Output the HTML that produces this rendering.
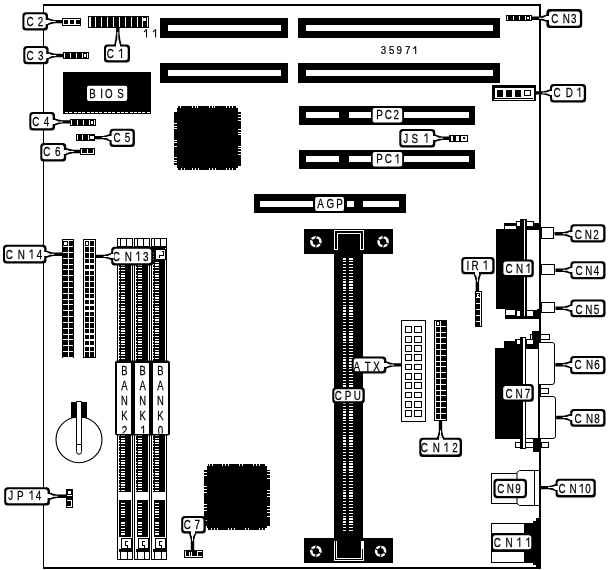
<!DOCTYPE html>
<html><head><meta charset="utf-8"><title>35971</title>
<style>
html,body{margin:0;padding:0;background:#fff;}
body{width:612px;height:570px;overflow:hidden;font-family:"Liberation Sans",sans-serif;}
svg{display:block;position:absolute;left:0;top:0;will-change:transform;}
svg text{font-family:"Liberation Sans",sans-serif;}
</style></head><body>
<svg width="612" height="570" viewBox="0 0 612 570" shape-rendering="crispEdges">
<rect x="0" y="0" width="612" height="570" fill="#fff"/>
<rect x="43" y="4" width="498" height="2" fill="#000" />
<rect x="43" y="4" width="1" height="565" fill="#000" />
<rect x="539" y="4" width="2" height="565" fill="#000" />
<rect x="43" y="567" width="498" height="2" fill="#000" />
<rect x="160" y="18" width="128" height="20" fill="#000" />
<rect x="168" y="25" width="113" height="6" fill="#fff" />
<rect x="160" y="63" width="128" height="20" fill="#000" />
<rect x="168" y="70" width="113" height="6" fill="#fff" />
<rect x="298" y="18" width="202" height="20" fill="#000" />
<rect x="306" y="25" width="187" height="6" fill="#fff" />
<rect x="298" y="63" width="202" height="20" fill="#000" />
<rect x="306" y="70" width="187" height="6" fill="#fff" />
<rect x="299" y="106" width="176" height="19" fill="#000" />
<rect x="306" y="112" width="33" height="6" fill="#fff" />
<rect x="349" y="112" width="21.5" height="6" fill="#fff" />
<rect x="404" y="112" width="65" height="6" fill="#fff" />
<rect x="372.7" y="108" width="29.5" height="14.5" rx="2" fill="#fff" shape-rendering="auto"/>
<text transform="translate(379.6,119.4) scale(0.76,1)" font-size="13" text-anchor="middle" fill="#000" stroke="#000" stroke-width="0.25">P</text>
<text transform="translate(388.2,119.4) scale(0.76,1)" font-size="13" text-anchor="middle" fill="#000" stroke="#000" stroke-width="0.25">C</text>
<text transform="translate(396.3,119.4) scale(0.76,1)" font-size="13" text-anchor="middle" fill="#000" stroke="#000" stroke-width="0.25">2</text>
<rect x="299" y="150" width="176" height="19" fill="#000" />
<rect x="306" y="156" width="33" height="6" fill="#fff" />
<rect x="349" y="156" width="21.5" height="6" fill="#fff" />
<rect x="404" y="156" width="65" height="6" fill="#fff" />
<rect x="372.7" y="152" width="29.5" height="14.5" rx="2" fill="#fff" shape-rendering="auto"/>
<text transform="translate(379.6,163.4) scale(0.76,1)" font-size="13" text-anchor="middle" fill="#000" stroke="#000" stroke-width="0.25">P</text>
<text transform="translate(388.2,163.4) scale(0.76,1)" font-size="13" text-anchor="middle" fill="#000" stroke="#000" stroke-width="0.25">C</text>
<path d="M397.9,163.4 V154.105 M398,154.305 L395.4,156.805" fill="none" stroke="#000" stroke-width="1.05" stroke-linecap="butt" shape-rendering="auto"/>
<rect x="254" y="194" width="152" height="19" fill="#000" />
<rect x="260" y="201" width="53" height="6" fill="#fff" />
<rect x="315.1" y="196.9" width="28.9" height="14" rx="2" fill="#fff" shape-rendering="auto"/>
<rect x="347" y="201" width="6.5" height="6" fill="#fff" />
<rect x="363" y="201" width="36" height="6" fill="#fff" />
<text transform="translate(320.5,208.2) scale(0.76,1)" font-size="13" text-anchor="middle" fill="#000" stroke="#000" stroke-width="0.25">A</text>
<text transform="translate(330.4,208.2) scale(0.76,1)" font-size="13" text-anchor="middle" fill="#000" stroke="#000" stroke-width="0.25">G</text>
<text transform="translate(339.6,208.2) scale(0.76,1)" font-size="13" text-anchor="middle" fill="#000" stroke="#000" stroke-width="0.25">P</text>
<rect x="177" y="108" width="60.5" height="59.5" fill="#000" />
<rect x="178" y="105.5" width="57.5" height="64.5" fill="#000" />
<rect x="174" y="111.5" width="66.5" height="54.5" fill="#000" />
<rect x="180" y="105.5" width="1" height="2.5" fill="#fff" />
<rect x="192" y="105.5" width="1" height="2.5" fill="#fff" />
<rect x="195" y="105.5" width="1" height="2.5" fill="#fff" />
<rect x="197" y="105.5" width="1" height="2.5" fill="#fff" />
<rect x="209" y="105.5" width="1" height="2.5" fill="#fff" />
<rect x="212" y="105.5" width="1" height="2.5" fill="#fff" />
<rect x="214" y="105.5" width="1" height="2.5" fill="#fff" />
<rect x="226" y="105.5" width="1" height="2.5" fill="#fff" />
<rect x="229" y="105.5" width="1" height="2.5" fill="#fff" />
<rect x="232" y="105.5" width="1" height="2.5" fill="#fff" />
<rect x="181" y="167.5" width="1" height="2.5" fill="#fff" />
<rect x="184" y="167.5" width="1" height="2.5" fill="#fff" />
<rect x="192" y="167.5" width="1" height="2.5" fill="#fff" />
<rect x="195" y="167.5" width="1" height="2.5" fill="#fff" />
<rect x="198" y="167.5" width="1" height="2.5" fill="#fff" />
<rect x="209" y="167.5" width="1" height="2.5" fill="#fff" />
<rect x="212" y="167.5" width="1" height="2.5" fill="#fff" />
<rect x="215" y="167.5" width="1" height="2.5" fill="#fff" />
<rect x="226" y="167.5" width="1" height="2.5" fill="#fff" />
<rect x="229" y="167.5" width="1" height="2.5" fill="#fff" />
<rect x="232" y="167.5" width="1" height="2.5" fill="#fff" />
<rect x="174" y="123" width="3" height="1" fill="#fff" />
<rect x="174" y="126" width="3" height="1" fill="#fff" />
<rect x="174" y="128" width="3" height="1" fill="#fff" />
<rect x="174" y="140" width="3" height="1" fill="#fff" />
<rect x="174" y="142" width="3" height="1" fill="#fff" />
<rect x="174" y="146" width="3" height="1" fill="#fff" />
<rect x="174" y="157" width="3" height="1" fill="#fff" />
<rect x="174" y="160" width="3" height="1" fill="#fff" />
<rect x="174" y="162" width="3" height="1" fill="#fff" />
<rect x="174" y="165" width="3" height="1" fill="#fff" />
<rect x="237.5" y="114" width="3" height="1" fill="#fff" />
<rect x="237.5" y="117" width="3" height="1" fill="#fff" />
<rect x="237.5" y="120" width="3" height="1" fill="#fff" />
<rect x="237.5" y="129" width="3" height="1" fill="#fff" />
<rect x="237.5" y="132" width="3" height="1" fill="#fff" />
<rect x="237.5" y="134" width="3" height="1" fill="#fff" />
<rect x="237.5" y="146" width="3" height="1" fill="#fff" />
<rect x="237.5" y="148" width="3" height="1" fill="#fff" />
<rect x="237.5" y="151" width="3" height="1" fill="#fff" />
<rect x="237.5" y="154" width="3" height="1" fill="#fff" />
<rect x="207" y="466" width="60" height="61.5" fill="#000" />
<rect x="208" y="463.5" width="57" height="66.5" fill="#000" />
<rect x="204" y="469.5" width="66" height="56.5" fill="#000" />
<rect x="209" y="463.5" width="1" height="2.5" fill="#fff" />
<rect x="212" y="463.5" width="1" height="2.5" fill="#fff" />
<rect x="222" y="463.5" width="1" height="2.5" fill="#fff" />
<rect x="225" y="463.5" width="1" height="2.5" fill="#fff" />
<rect x="228" y="463.5" width="1" height="2.5" fill="#fff" />
<rect x="239" y="463.5" width="1" height="2.5" fill="#fff" />
<rect x="242" y="463.5" width="1" height="2.5" fill="#fff" />
<rect x="253" y="463.5" width="1" height="2.5" fill="#fff" />
<rect x="256" y="463.5" width="1" height="2.5" fill="#fff" />
<rect x="259" y="463.5" width="1" height="2.5" fill="#fff" />
<rect x="211" y="527.5" width="1" height="2.5" fill="#fff" />
<rect x="214" y="527.5" width="1" height="2.5" fill="#fff" />
<rect x="217" y="527.5" width="1" height="2.5" fill="#fff" />
<rect x="228" y="527.5" width="1" height="2.5" fill="#fff" />
<rect x="231" y="527.5" width="1" height="2.5" fill="#fff" />
<rect x="234" y="527.5" width="1" height="2.5" fill="#fff" />
<rect x="245" y="527.5" width="1" height="2.5" fill="#fff" />
<rect x="248" y="527.5" width="1" height="2.5" fill="#fff" />
<rect x="259" y="527.5" width="1" height="2.5" fill="#fff" />
<rect x="262" y="527.5" width="1" height="2.5" fill="#fff" />
<rect x="265" y="527.5" width="1" height="2.5" fill="#fff" />
<rect x="204" y="469" width="3" height="1" fill="#fff" />
<rect x="204" y="472" width="3" height="1" fill="#fff" />
<rect x="204" y="475" width="3" height="1" fill="#fff" />
<rect x="204" y="486" width="3" height="1" fill="#fff" />
<rect x="204" y="489" width="3" height="1" fill="#fff" />
<rect x="204" y="492" width="3" height="1" fill="#fff" />
<rect x="204" y="504" width="3" height="1" fill="#fff" />
<rect x="204" y="507" width="3" height="1" fill="#fff" />
<rect x="204" y="510" width="3" height="1" fill="#fff" />
<rect x="204" y="520" width="3" height="1" fill="#fff" />
<rect x="267" y="468" width="3" height="1" fill="#fff" />
<rect x="267" y="471" width="3" height="1" fill="#fff" />
<rect x="267" y="474" width="3" height="1" fill="#fff" />
<rect x="267" y="478" width="3" height="1" fill="#fff" />
<rect x="267" y="490" width="3" height="1" fill="#fff" />
<rect x="267" y="493" width="3" height="1" fill="#fff" />
<rect x="267" y="496" width="3" height="1" fill="#fff" />
<rect x="267" y="506" width="3" height="1" fill="#fff" />
<rect x="267" y="509" width="3" height="1" fill="#fff" />
<rect x="267" y="512" width="3" height="1" fill="#fff" />
<rect x="267" y="516" width="3" height="1" fill="#fff" />
<rect x="62.5" y="71.5" width="88.5" height="42.5" fill="#000" />
<rect x="65" y="111.6" width="3" height="1.2" fill="#fff" />
<rect x="69.3" y="111.6" width="3" height="1.2" fill="#fff" />
<rect x="73.6" y="111.6" width="3" height="1.2" fill="#fff" />
<rect x="77.9" y="111.6" width="3" height="1.2" fill="#fff" />
<rect x="82.2" y="111.6" width="3" height="1.2" fill="#fff" />
<rect x="86.5" y="111.6" width="3" height="1.2" fill="#fff" />
<rect x="90.8" y="111.6" width="3" height="1.2" fill="#fff" />
<rect x="95.1" y="111.6" width="3" height="1.2" fill="#fff" />
<rect x="99.4" y="111.6" width="3" height="1.2" fill="#fff" />
<rect x="103.7" y="111.6" width="3" height="1.2" fill="#fff" />
<rect x="108" y="111.6" width="3" height="1.2" fill="#fff" />
<rect x="112.3" y="111.6" width="3" height="1.2" fill="#fff" />
<rect x="116.6" y="111.6" width="3" height="1.2" fill="#fff" />
<rect x="120.9" y="111.6" width="3" height="1.2" fill="#fff" />
<rect x="125.2" y="111.6" width="3" height="1.2" fill="#fff" />
<rect x="129.5" y="111.6" width="3" height="1.2" fill="#fff" />
<rect x="133.8" y="111.6" width="3" height="1.2" fill="#fff" />
<rect x="138.1" y="111.6" width="3" height="1.2" fill="#fff" />
<rect x="142.4" y="111.6" width="3" height="1.2" fill="#fff" />
<rect x="146.7" y="111.6" width="3" height="1.2" fill="#fff" />
<rect x="87" y="85.8" width="40.2" height="15.2" rx="2" fill="#fff" shape-rendering="auto"/>
<text transform="translate(92.6,97.7) scale(0.8,1)" font-size="12.2" text-anchor="middle" fill="#000" stroke="#000" stroke-width="0.25">B</text>
<text transform="translate(101.5,97.7) scale(0.8,1)" font-size="12.2" text-anchor="middle" fill="#000" stroke="#000" stroke-width="0.25">I</text>
<text transform="translate(108.8,97.7) scale(0.8,1)" font-size="12.2" text-anchor="middle" fill="#000" stroke="#000" stroke-width="0.25">O</text>
<text transform="translate(120.5,97.7) scale(0.8,1)" font-size="12.2" text-anchor="middle" fill="#000" stroke="#000" stroke-width="0.25">S</text>
<rect x="304" y="229" width="89" height="25" fill="#000" />
<rect x="334" y="254" width="29" height="284" fill="#000" />
<rect x="304" y="538" width="89" height="25" fill="#000" />
<rect x="343" y="258.3" width="3.2" height="1.3" fill="#fff" />
<rect x="349.2" y="258.3" width="4" height="1.3" fill="#fff" />
<rect x="343" y="261.19" width="3.2" height="1.3" fill="#fff" />
<rect x="349.2" y="261.19" width="4" height="1.3" fill="#fff" />
<rect x="343" y="264.08" width="3.2" height="1.3" fill="#fff" />
<rect x="349.2" y="264.08" width="4" height="1.3" fill="#fff" />
<rect x="343" y="266.97" width="3.2" height="1.3" fill="#fff" />
<rect x="349.2" y="266.97" width="4" height="1.3" fill="#fff" />
<rect x="343" y="269.86" width="3.2" height="1.3" fill="#fff" />
<rect x="349.2" y="269.86" width="4" height="1.3" fill="#fff" />
<rect x="343" y="272.75" width="3.2" height="1.3" fill="#fff" />
<rect x="349.2" y="272.75" width="4" height="1.3" fill="#fff" />
<rect x="343" y="275.64" width="3.2" height="1.3" fill="#fff" />
<rect x="349.2" y="275.64" width="4" height="1.3" fill="#fff" />
<rect x="343" y="278.53" width="3.2" height="1.3" fill="#fff" />
<rect x="349.2" y="278.53" width="4" height="1.3" fill="#fff" />
<rect x="343" y="281.42" width="3.2" height="1.3" fill="#fff" />
<rect x="349.2" y="281.42" width="4" height="1.3" fill="#fff" />
<rect x="343" y="284.31" width="3.2" height="1.3" fill="#fff" />
<rect x="349.2" y="284.31" width="4" height="1.3" fill="#fff" />
<rect x="343" y="287.2" width="3.2" height="1.3" fill="#fff" />
<rect x="349.2" y="287.2" width="4" height="1.3" fill="#fff" />
<rect x="343" y="290.09" width="3.2" height="1.3" fill="#fff" />
<rect x="349.2" y="290.09" width="4" height="1.3" fill="#fff" />
<rect x="343" y="292.98" width="3.2" height="1.3" fill="#fff" />
<rect x="349.2" y="292.98" width="4" height="1.3" fill="#fff" />
<rect x="343" y="295.87" width="3.2" height="1.3" fill="#fff" />
<rect x="349.2" y="295.87" width="4" height="1.3" fill="#fff" />
<rect x="343" y="298.76" width="3.2" height="1.3" fill="#fff" />
<rect x="349.2" y="298.76" width="4" height="1.3" fill="#fff" />
<rect x="343" y="301.65" width="3.2" height="1.3" fill="#fff" />
<rect x="349.2" y="301.65" width="4" height="1.3" fill="#fff" />
<rect x="343" y="304.54" width="3.2" height="1.3" fill="#fff" />
<rect x="349.2" y="304.54" width="4" height="1.3" fill="#fff" />
<rect x="343" y="307.43" width="3.2" height="1.3" fill="#fff" />
<rect x="349.2" y="307.43" width="4" height="1.3" fill="#fff" />
<rect x="343" y="310.32" width="3.2" height="1.3" fill="#fff" />
<rect x="349.2" y="310.32" width="4" height="1.3" fill="#fff" />
<rect x="343" y="313.21" width="3.2" height="1.3" fill="#fff" />
<rect x="349.2" y="313.21" width="4" height="1.3" fill="#fff" />
<rect x="343" y="316.1" width="3.2" height="1.3" fill="#fff" />
<rect x="349.2" y="316.1" width="4" height="1.3" fill="#fff" />
<rect x="343" y="318.99" width="3.2" height="1.3" fill="#fff" />
<rect x="349.2" y="318.99" width="4" height="1.3" fill="#fff" />
<rect x="343" y="321.88" width="3.2" height="1.3" fill="#fff" />
<rect x="349.2" y="321.88" width="4" height="1.3" fill="#fff" />
<rect x="343" y="324.77" width="3.2" height="1.3" fill="#fff" />
<rect x="349.2" y="324.77" width="4" height="1.3" fill="#fff" />
<rect x="343" y="327.66" width="3.2" height="1.3" fill="#fff" />
<rect x="349.2" y="327.66" width="4" height="1.3" fill="#fff" />
<rect x="343" y="330.55" width="3.2" height="1.3" fill="#fff" />
<rect x="349.2" y="330.55" width="4" height="1.3" fill="#fff" />
<rect x="343" y="333.44" width="3.2" height="1.3" fill="#fff" />
<rect x="349.2" y="333.44" width="4" height="1.3" fill="#fff" />
<rect x="343" y="336.33" width="3.2" height="1.3" fill="#fff" />
<rect x="349.2" y="336.33" width="4" height="1.3" fill="#fff" />
<rect x="343" y="339.22" width="3.2" height="1.3" fill="#fff" />
<rect x="349.2" y="339.22" width="4" height="1.3" fill="#fff" />
<rect x="343" y="342.11" width="3.2" height="1.3" fill="#fff" />
<rect x="349.2" y="342.11" width="4" height="1.3" fill="#fff" />
<rect x="343" y="345" width="3.2" height="1.3" fill="#fff" />
<rect x="349.2" y="345" width="4" height="1.3" fill="#fff" />
<rect x="343" y="347.89" width="3.2" height="1.3" fill="#fff" />
<rect x="349.2" y="347.89" width="4" height="1.3" fill="#fff" />
<rect x="343" y="350.78" width="3.2" height="1.3" fill="#fff" />
<rect x="349.2" y="350.78" width="4" height="1.3" fill="#fff" />
<rect x="343" y="353.67" width="3.2" height="1.3" fill="#fff" />
<rect x="349.2" y="353.67" width="4" height="1.3" fill="#fff" />
<rect x="343" y="356.56" width="3.2" height="1.3" fill="#fff" />
<rect x="349.2" y="356.56" width="4" height="1.3" fill="#fff" />
<rect x="343" y="359.45" width="3.2" height="1.3" fill="#fff" />
<rect x="349.2" y="359.45" width="4" height="1.3" fill="#fff" />
<rect x="343" y="362.34" width="3.2" height="1.3" fill="#fff" />
<rect x="349.2" y="362.34" width="4" height="1.3" fill="#fff" />
<rect x="343" y="365.23" width="3.2" height="1.3" fill="#fff" />
<rect x="349.2" y="365.23" width="4" height="1.3" fill="#fff" />
<rect x="343" y="368.12" width="3.2" height="1.3" fill="#fff" />
<rect x="349.2" y="368.12" width="4" height="1.3" fill="#fff" />
<rect x="343" y="371.01" width="3.2" height="1.3" fill="#fff" />
<rect x="349.2" y="371.01" width="4" height="1.3" fill="#fff" />
<rect x="343" y="373.9" width="3.2" height="1.3" fill="#fff" />
<rect x="349.2" y="373.9" width="4" height="1.3" fill="#fff" />
<rect x="343" y="376.79" width="3.2" height="1.3" fill="#fff" />
<rect x="349.2" y="376.79" width="4" height="1.3" fill="#fff" />
<rect x="343" y="379.68" width="3.2" height="1.3" fill="#fff" />
<rect x="349.2" y="379.68" width="4" height="1.3" fill="#fff" />
<rect x="343" y="382.57" width="3.2" height="1.3" fill="#fff" />
<rect x="349.2" y="382.57" width="4" height="1.3" fill="#fff" />
<rect x="343" y="385.46" width="3.2" height="1.3" fill="#fff" />
<rect x="349.2" y="385.46" width="4" height="1.3" fill="#fff" />
<rect x="343" y="388.35" width="3.2" height="1.3" fill="#fff" />
<rect x="349.2" y="388.35" width="4" height="1.3" fill="#fff" />
<rect x="343" y="391.24" width="3.2" height="1.3" fill="#fff" />
<rect x="349.2" y="391.24" width="4" height="1.3" fill="#fff" />
<rect x="343" y="394.13" width="3.2" height="1.3" fill="#fff" />
<rect x="349.2" y="394.13" width="4" height="1.3" fill="#fff" />
<rect x="343" y="397.02" width="3.2" height="1.3" fill="#fff" />
<rect x="349.2" y="397.02" width="4" height="1.3" fill="#fff" />
<rect x="343" y="399.91" width="3.2" height="1.3" fill="#fff" />
<rect x="349.2" y="399.91" width="4" height="1.3" fill="#fff" />
<rect x="343" y="402.8" width="3.2" height="1.3" fill="#fff" />
<rect x="349.2" y="402.8" width="4" height="1.3" fill="#fff" />
<rect x="343" y="405.69" width="3.2" height="1.3" fill="#fff" />
<rect x="349.2" y="405.69" width="4" height="1.3" fill="#fff" />
<rect x="343" y="408.58" width="3.2" height="1.3" fill="#fff" />
<rect x="349.2" y="408.58" width="4" height="1.3" fill="#fff" />
<rect x="343" y="411.47" width="3.2" height="1.3" fill="#fff" />
<rect x="349.2" y="411.47" width="4" height="1.3" fill="#fff" />
<rect x="343" y="414.36" width="3.2" height="1.3" fill="#fff" />
<rect x="349.2" y="414.36" width="4" height="1.3" fill="#fff" />
<rect x="343" y="417.25" width="3.2" height="1.3" fill="#fff" />
<rect x="349.2" y="417.25" width="4" height="1.3" fill="#fff" />
<rect x="343" y="420.14" width="3.2" height="1.3" fill="#fff" />
<rect x="349.2" y="420.14" width="4" height="1.3" fill="#fff" />
<rect x="343" y="423.03" width="3.2" height="1.3" fill="#fff" />
<rect x="349.2" y="423.03" width="4" height="1.3" fill="#fff" />
<rect x="343" y="425.92" width="3.2" height="1.3" fill="#fff" />
<rect x="349.2" y="425.92" width="4" height="1.3" fill="#fff" />
<rect x="343" y="428.81" width="3.2" height="1.3" fill="#fff" />
<rect x="349.2" y="428.81" width="4" height="1.3" fill="#fff" />
<rect x="343" y="431.7" width="3.2" height="1.3" fill="#fff" />
<rect x="349.2" y="431.7" width="4" height="1.3" fill="#fff" />
<rect x="343" y="434.59" width="3.2" height="1.3" fill="#fff" />
<rect x="349.2" y="434.59" width="4" height="1.3" fill="#fff" />
<rect x="343" y="437.48" width="3.2" height="1.3" fill="#fff" />
<rect x="349.2" y="437.48" width="4" height="1.3" fill="#fff" />
<rect x="343" y="440.37" width="3.2" height="1.3" fill="#fff" />
<rect x="349.2" y="440.37" width="4" height="1.3" fill="#fff" />
<rect x="343" y="443.26" width="3.2" height="1.3" fill="#fff" />
<rect x="349.2" y="443.26" width="4" height="1.3" fill="#fff" />
<rect x="343" y="446.15" width="3.2" height="1.3" fill="#fff" />
<rect x="349.2" y="446.15" width="4" height="1.3" fill="#fff" />
<rect x="343" y="449.04" width="3.2" height="1.3" fill="#fff" />
<rect x="349.2" y="449.04" width="4" height="1.3" fill="#fff" />
<rect x="343" y="451.93" width="3.2" height="1.3" fill="#fff" />
<rect x="349.2" y="451.93" width="4" height="1.3" fill="#fff" />
<rect x="343" y="454.82" width="3.2" height="1.3" fill="#fff" />
<rect x="349.2" y="454.82" width="4" height="1.3" fill="#fff" />
<rect x="343" y="457.71" width="3.2" height="1.3" fill="#fff" />
<rect x="349.2" y="457.71" width="4" height="1.3" fill="#fff" />
<rect x="343" y="460.6" width="3.2" height="1.3" fill="#fff" />
<rect x="349.2" y="460.6" width="4" height="1.3" fill="#fff" />
<rect x="343" y="463.49" width="3.2" height="1.3" fill="#fff" />
<rect x="349.2" y="463.49" width="4" height="1.3" fill="#fff" />
<rect x="343" y="466.38" width="3.2" height="1.3" fill="#fff" />
<rect x="349.2" y="466.38" width="4" height="1.3" fill="#fff" />
<rect x="343" y="469.27" width="3.2" height="1.3" fill="#fff" />
<rect x="349.2" y="469.27" width="4" height="1.3" fill="#fff" />
<rect x="343" y="472.16" width="3.2" height="1.3" fill="#fff" />
<rect x="349.2" y="472.16" width="4" height="1.3" fill="#fff" />
<rect x="343" y="475.05" width="3.2" height="1.3" fill="#fff" />
<rect x="349.2" y="475.05" width="4" height="1.3" fill="#fff" />
<rect x="343" y="477.94" width="3.2" height="1.3" fill="#fff" />
<rect x="349.2" y="477.94" width="4" height="1.3" fill="#fff" />
<rect x="343" y="480.83" width="3.2" height="1.3" fill="#fff" />
<rect x="349.2" y="480.83" width="4" height="1.3" fill="#fff" />
<rect x="343" y="483.72" width="3.2" height="1.3" fill="#fff" />
<rect x="349.2" y="483.72" width="4" height="1.3" fill="#fff" />
<rect x="343" y="486.61" width="3.2" height="1.3" fill="#fff" />
<rect x="349.2" y="486.61" width="4" height="1.3" fill="#fff" />
<rect x="343" y="489.5" width="3.2" height="1.3" fill="#fff" />
<rect x="349.2" y="489.5" width="4" height="1.3" fill="#fff" />
<rect x="343" y="492.39" width="3.2" height="1.3" fill="#fff" />
<rect x="349.2" y="492.39" width="4" height="1.3" fill="#fff" />
<rect x="343" y="495.28" width="3.2" height="1.3" fill="#fff" />
<rect x="349.2" y="495.28" width="4" height="1.3" fill="#fff" />
<rect x="343" y="498.17" width="3.2" height="1.3" fill="#fff" />
<rect x="349.2" y="498.17" width="4" height="1.3" fill="#fff" />
<rect x="343" y="501.06" width="3.2" height="1.3" fill="#fff" />
<rect x="349.2" y="501.06" width="4" height="1.3" fill="#fff" />
<rect x="343" y="503.95" width="3.2" height="1.3" fill="#fff" />
<rect x="349.2" y="503.95" width="4" height="1.3" fill="#fff" />
<rect x="343" y="506.84" width="3.2" height="1.3" fill="#fff" />
<rect x="349.2" y="506.84" width="4" height="1.3" fill="#fff" />
<rect x="343" y="509.73" width="3.2" height="1.3" fill="#fff" />
<rect x="349.2" y="509.73" width="4" height="1.3" fill="#fff" />
<rect x="343" y="512.62" width="3.2" height="1.3" fill="#fff" />
<rect x="349.2" y="512.62" width="4" height="1.3" fill="#fff" />
<rect x="343" y="515.51" width="3.2" height="1.3" fill="#fff" />
<rect x="349.2" y="515.51" width="4" height="1.3" fill="#fff" />
<rect x="343" y="518.4" width="3.2" height="1.3" fill="#fff" />
<rect x="349.2" y="518.4" width="4" height="1.3" fill="#fff" />
<rect x="343" y="521.29" width="3.2" height="1.3" fill="#fff" />
<rect x="349.2" y="521.29" width="4" height="1.3" fill="#fff" />
<rect x="343" y="524.18" width="3.2" height="1.3" fill="#fff" />
<rect x="349.2" y="524.18" width="4" height="1.3" fill="#fff" />
<rect x="343" y="527.07" width="3.2" height="1.3" fill="#fff" />
<rect x="349.2" y="527.07" width="4" height="1.3" fill="#fff" />
<rect x="343" y="529.96" width="3.2" height="1.3" fill="#fff" />
<rect x="349.2" y="529.96" width="4" height="1.3" fill="#fff" />
<rect x="334.3" y="230" width="29.7" height="20" fill="#fff" />
<rect x="335.3" y="231" width="27.7" height="20" fill="#000" />
<rect x="337.4" y="232.6" width="23.6" height="17.4" fill="#fff" />
<rect x="338.4" y="233.6" width="21.6" height="17.4" fill="#000" />
<rect x="334" y="249.8" width="31" height="4.2" fill="#000" />
<rect x="334.3" y="249" width="4.1" height="1" fill="#fff" />
<rect x="360" y="249" width="4" height="1" fill="#fff" />
<rect x="334" y="541" width="30" height="20.4" fill="#fff" />
<rect x="335" y="541" width="28" height="19.4" fill="#000" />
<rect x="336" y="541" width="26" height="18.4" fill="#fff" />
<rect x="337" y="541" width="24" height="17.4" fill="#000" />
<rect x="361" y="541.4" width="2.4" height="7.6" fill="#fff" />
<rect x="334" y="538" width="31" height="3" fill="#000" />
<circle cx="315.9" cy="241.7" r="4.5" fill="none" stroke="#fff" stroke-width="2.6" shape-rendering="auto"/>
<path d="M309.9,238.7 l4.2,2.4 M321.9,244.7 l-4.2,-2.4 M316.9,235.5 l-1.5,3 M314.9,247.89999999999998 l1.5,-3" stroke="#000" stroke-width="1.1" fill="none" shape-rendering="auto"/>
<circle cx="383.1" cy="241.7" r="4.5" fill="none" stroke="#fff" stroke-width="2.6" shape-rendering="auto"/>
<path d="M377.1,238.7 l4.2,2.4 M389.1,244.7 l-4.2,-2.4 M384.1,235.5 l-1.5,3 M382.1,247.89999999999998 l1.5,-3" stroke="#000" stroke-width="1.1" fill="none" shape-rendering="auto"/>
<circle cx="315.9" cy="551.2" r="4.5" fill="none" stroke="#fff" stroke-width="2.6" shape-rendering="auto"/>
<path d="M309.9,548.2 l4.2,2.4 M321.9,554.2 l-4.2,-2.4 M316.9,545.0 l-1.5,3 M314.9,557.4000000000001 l1.5,-3" stroke="#000" stroke-width="1.1" fill="none" shape-rendering="auto"/>
<circle cx="380.6" cy="551.2" r="4.5" fill="none" stroke="#fff" stroke-width="2.6" shape-rendering="auto"/>
<path d="M374.6,548.2 l4.2,2.4 M386.6,554.2 l-4.2,-2.4 M381.6,545.0 l-1.5,3 M379.6,557.4000000000001 l1.5,-3" stroke="#000" stroke-width="1.1" fill="none" shape-rendering="auto"/>
<rect x="332.3" y="387.2" width="32.5" height="16.4" rx="3.5" ry="3.5" fill="#000" shape-rendering="auto"/>
<rect x="334.3" y="389.2" width="28.2" height="12.1" rx="2.5" ry="2.5" fill="#fff" shape-rendering="auto"/>
<text transform="translate(338.4,400) scale(0.76,1)" font-size="13" text-anchor="middle" fill="#000" stroke="#000" stroke-width="0.25">C</text>
<text transform="translate(348,400) scale(0.76,1)" font-size="13" text-anchor="middle" fill="#000" stroke="#000" stroke-width="0.25">P</text>
<text transform="translate(357.2,400) scale(0.76,1)" font-size="13" text-anchor="middle" fill="#000" stroke="#000" stroke-width="0.25">U</text>
<rect x="88" y="16" width="61" height="11.75" fill="#000" />
<rect x="89.3" y="17" width="1.2" height="9.75" fill="#fff" />
<rect x="95" y="17" width="1.2" height="9.75" fill="#fff" />
<rect x="101" y="17" width="1.2" height="9.75" fill="#fff" />
<rect x="107" y="17" width="1.2" height="9.75" fill="#fff" />
<rect x="112.5" y="17" width="1.2" height="9.75" fill="#fff" />
<rect x="118.5" y="17" width="1.2" height="9.75" fill="#fff" />
<rect x="124.5" y="17" width="1.2" height="9.75" fill="#fff" />
<rect x="130.5" y="17" width="1.2" height="9.75" fill="#fff" />
<rect x="136.5" y="17" width="1.2" height="9.75" fill="#fff" />
<rect x="141.5" y="17" width="1.2" height="9.75" fill="#fff" />
<rect x="143.4" y="18" width="2.9" height="3.3" fill="#fff" />
<rect x="147" y="17" width="1" height="9.75" fill="#fff" />
<path d="M146.5,37.5 V29.1345 M146.6,29.3345 L144,31.8345" fill="none" stroke="#000" stroke-width="1.05" stroke-linecap="butt" shape-rendering="auto"/>
<path d="M155.6,37.5 V29.1345 M155.7,29.3345 L153.1,31.8345" fill="none" stroke="#000" stroke-width="1.05" stroke-linecap="butt" shape-rendering="auto"/>
<polygon points="114,45.5 115.216,39.84 116.1,33 116.1,27.5 119.5,27.5 119.5,33 120.384,39.84 121.6,45.5" fill="#000" shape-rendering="auto"/>
<polygon points="115.9,47.6 116.204,43.2 117.3,38.4 117.3,32 118.3,32 118.3,38.4 119.396,43.2 119.7,47.6" fill="#fff" shape-rendering="auto"/>
<rect x="104" y="44.4" width="26" height="18.1" rx="3.5" ry="3.5" fill="#000" shape-rendering="auto"/>
<rect x="106" y="46.4" width="21.7" height="13.8" rx="2.5" ry="2.5" fill="#fff" shape-rendering="auto"/>
<text transform="translate(110.3,58) scale(0.76,1)" font-size="13" text-anchor="middle" fill="#000" stroke="#000" stroke-width="0.25">C</text>
<path d="M121.6,58 V48.705 M121.7,48.905 L119.1,51.405" fill="none" stroke="#000" stroke-width="1.05" stroke-linecap="butt" shape-rendering="auto"/>
<rect x="115.8" y="44" width="4" height="3" fill="#fff" />
<rect x="62.25" y="18" width="18.75" height="7.6" fill="#000" />
<rect x="63.25" y="19" width="16.75" height="5.6" fill="#fff" />
<rect x="64" y="20" width="4" height="4.4" fill="#000" />
<rect x="70" y="20" width="4" height="4.4" fill="#000" />
<rect x="76" y="20" width="4" height="4.4" fill="#000" />
<polygon points="47.1,17.6 50.61,18.88 54.6,19.9 62.3,19.9 62.3,23.3 54.6,23.3 50.61,24.32 47.1,25.6" fill="#000" shape-rendering="auto"/>
<polygon points="45,19.6 48.65,19.92 51.45,21.1 55.6,21.1 55.6,22.1 51.45,22.1 48.65,23.28 45,23.6" fill="#fff" shape-rendering="auto"/>
<rect x="22.4" y="12.2" width="25.6" height="18.4" rx="3.5" ry="3.5" fill="#000" shape-rendering="auto"/>
<rect x="24.4" y="14.2" width="21.3" height="14.1" rx="2.5" ry="2.5" fill="#fff" shape-rendering="auto"/>
<text transform="translate(30.1,25.9) scale(0.76,1)" font-size="13" text-anchor="middle" fill="#000" stroke="#000" stroke-width="0.25">C</text>
<text transform="translate(40.6,25.9) scale(0.76,1)" font-size="13" text-anchor="middle" fill="#000" stroke="#000" stroke-width="0.25">2</text>
<rect x="45" y="19.6" width="3.2" height="4" fill="#fff" />
<rect x="63" y="52" width="26" height="7" fill="#000" />
<rect x="63.9" y="53" width="1.4" height="5" fill="#fff" />
<rect x="69.8" y="53" width="1.1" height="5" fill="#fff" />
<rect x="75.9" y="53" width="1.2" height="5" fill="#fff" />
<rect x="81.5" y="53" width="1.6" height="5" fill="#fff" />
<rect x="87" y="53" width="1" height="5" fill="#fff" />
<rect x="84" y="53.6" width="2.2" height="3.8" fill="#fff" />
<polygon points="47.7,51.5 51.21,52.78 55.2,53.8 63.4,53.8 63.4,57.2 55.2,57.2 51.21,58.22 47.7,59.5" fill="#000" shape-rendering="auto"/>
<polygon points="45.6,53.5 49.25,53.82 52.05,55 56.2,55 56.2,56 52.05,56 49.25,57.18 45.6,57.5" fill="#fff" shape-rendering="auto"/>
<rect x="23.3" y="45.9" width="25.3" height="18.4" rx="3.5" ry="3.5" fill="#000" shape-rendering="auto"/>
<rect x="25.3" y="47.9" width="21" height="14.1" rx="2.5" ry="2.5" fill="#fff" shape-rendering="auto"/>
<text transform="translate(30.1,59.8) scale(0.76,1)" font-size="13" text-anchor="middle" fill="#000" stroke="#000" stroke-width="0.25">C</text>
<text transform="translate(40.7,59.8) scale(0.76,1)" font-size="13" text-anchor="middle" fill="#000" stroke="#000" stroke-width="0.25">3</text>
<rect x="45.5" y="53.5" width="3.3" height="4" fill="#fff" />
<rect x="70" y="119" width="26" height="6.5" fill="#000" />
<rect x="70.9" y="120" width="1.4" height="4.5" fill="#fff" />
<rect x="76.8" y="120" width="1.1" height="4.5" fill="#fff" />
<rect x="82.9" y="120" width="1.2" height="4.5" fill="#fff" />
<rect x="88.5" y="120" width="1.6" height="4.5" fill="#fff" />
<rect x="94" y="120" width="1" height="4.5" fill="#fff" />
<rect x="91" y="120.6" width="2.2" height="3.3" fill="#fff" />
<polygon points="54.1,117.9 57.61,119.18 61.6,120.2 70.1,120.2 70.1,123.6 61.6,123.6 57.61,124.62 54.1,125.9" fill="#000" shape-rendering="auto"/>
<polygon points="52,119.9 55.65,120.22 58.45,121.4 62.6,121.4 62.6,122.4 58.45,122.4 55.65,123.58 52,123.9" fill="#fff" shape-rendering="auto"/>
<rect x="29.3" y="112.1" width="25.7" height="18.5" rx="3.5" ry="3.5" fill="#000" shape-rendering="auto"/>
<rect x="31.3" y="114.1" width="21.4" height="14.2" rx="2.5" ry="2.5" fill="#fff" shape-rendering="auto"/>
<text transform="translate(35.8,125.8) scale(0.76,1)" font-size="13" text-anchor="middle" fill="#000" stroke="#000" stroke-width="0.25">C</text>
<text transform="translate(46.5,125.8) scale(0.76,1)" font-size="13" text-anchor="middle" fill="#000" stroke="#000" stroke-width="0.25">4</text>
<rect x="52" y="119.9" width="3.2" height="4" fill="#fff" />
<rect x="76" y="134" width="19" height="7" fill="#000" />
<rect x="77.3" y="135" width="1.1" height="5" fill="#fff" />
<rect x="82" y="135" width="1.1" height="5" fill="#fff" />
<rect x="87.8" y="135" width="1.1" height="5" fill="#fff" />
<rect x="90" y="135.5" width="4" height="3.9" fill="#fff" />
<polygon points="110.5,133.6 106.99,134.88 103,135.9 95,135.9 95,139.3 103,139.3 106.99,140.32 110.5,141.6" fill="#000" shape-rendering="auto"/>
<polygon points="112.6,135.6 108.95,135.92 106.15,137.1 102,137.1 102,138.1 106.15,138.1 108.95,139.28 112.6,139.6" fill="#fff" shape-rendering="auto"/>
<rect x="109.6" y="128.8" width="25.3" height="18.2" rx="3.5" ry="3.5" fill="#000" shape-rendering="auto"/>
<rect x="111.6" y="130.8" width="21" height="13.9" rx="2.5" ry="2.5" fill="#fff" shape-rendering="auto"/>
<text transform="translate(117,141.9) scale(0.76,1)" font-size="13" text-anchor="middle" fill="#000" stroke="#000" stroke-width="0.25">C</text>
<text transform="translate(127.6,141.9) scale(0.76,1)" font-size="13" text-anchor="middle" fill="#000" stroke="#000" stroke-width="0.25">5</text>
<rect x="109.4" y="135.6" width="3.2" height="4" fill="#fff" />
<rect x="80" y="147.5" width="15" height="7.1" fill="#000" />
<rect x="81" y="148.5" width="13" height="5.1" fill="#fff" />
<rect x="82" y="149.4" width="5" height="3.4" fill="#000" />
<rect x="88.2" y="149.4" width="4.8" height="3.4" fill="#000" />
<polygon points="65.3,147.5 68.81,148.78 72.8,149.8 80,149.8 80,153.2 72.8,153.2 68.81,154.22 65.3,155.5" fill="#000" shape-rendering="auto"/>
<polygon points="63.2,149.5 66.85,149.82 69.65,151 73.8,151 73.8,152 69.65,152 66.85,153.18 63.2,153.5" fill="#fff" shape-rendering="auto"/>
<rect x="40.3" y="143.1" width="25.9" height="18.4" rx="3.5" ry="3.5" fill="#000" shape-rendering="auto"/>
<rect x="42.3" y="145.1" width="21.6" height="14.1" rx="2.5" ry="2.5" fill="#fff" shape-rendering="auto"/>
<text transform="translate(46.9,155.9) scale(0.76,1)" font-size="13" text-anchor="middle" fill="#000" stroke="#000" stroke-width="0.25">C</text>
<text transform="translate(57.8,155.9) scale(0.76,1)" font-size="13" text-anchor="middle" fill="#000" stroke="#000" stroke-width="0.25">6</text>
<rect x="63.2" y="149.5" width="3.2" height="4" fill="#fff" />
<rect x="62.25" y="239.25" width="11.75" height="118.75" fill="#000" />
<rect x="63.25" y="240.15" width="9.75" height="1" fill="#fff" />
<rect x="63.25" y="245.988" width="9.75" height="1" fill="#fff" />
<rect x="63.25" y="251.825" width="9.75" height="1" fill="#fff" />
<rect x="63.25" y="257.662" width="9.75" height="1" fill="#fff" />
<rect x="63.25" y="263.5" width="9.75" height="1" fill="#fff" />
<rect x="63.25" y="269.337" width="9.75" height="1" fill="#fff" />
<rect x="63.25" y="275.175" width="9.75" height="1" fill="#fff" />
<rect x="63.25" y="281.012" width="9.75" height="1" fill="#fff" />
<rect x="63.25" y="286.85" width="9.75" height="1" fill="#fff" />
<rect x="63.25" y="292.688" width="9.75" height="1" fill="#fff" />
<rect x="63.25" y="298.525" width="9.75" height="1" fill="#fff" />
<rect x="63.25" y="304.362" width="9.75" height="1" fill="#fff" />
<rect x="63.25" y="310.2" width="9.75" height="1" fill="#fff" />
<rect x="63.25" y="316.037" width="9.75" height="1" fill="#fff" />
<rect x="63.25" y="321.875" width="9.75" height="1" fill="#fff" />
<rect x="63.25" y="327.712" width="9.75" height="1" fill="#fff" />
<rect x="63.25" y="333.55" width="9.75" height="1" fill="#fff" />
<rect x="63.25" y="339.387" width="9.75" height="1" fill="#fff" />
<rect x="63.25" y="345.225" width="9.75" height="1" fill="#fff" />
<rect x="63.25" y="351.062" width="9.75" height="1" fill="#fff" />
<rect x="63.25" y="356.9" width="9.75" height="1" fill="#fff" />
<rect x="67.925" y="240.25" width="1" height="116.75" fill="#fff" />
<rect x="63.75" y="241.55" width="2.8" height="3.3" fill="#fff" />
<rect x="83" y="239.25" width="13" height="118.75" fill="#000" />
<rect x="84" y="240.25" width="11" height="116.75" fill="#fff" />
<rect x="85" y="241.45" width="4" height="4.4375" fill="#000" />
<rect x="90" y="241.45" width="4" height="4.4375" fill="#000" />
<rect x="85" y="247.287" width="4" height="4.4375" fill="#000" />
<rect x="90" y="247.287" width="4" height="4.4375" fill="#000" />
<rect x="85" y="253.125" width="4" height="4.4375" fill="#000" />
<rect x="90" y="253.125" width="4" height="4.4375" fill="#000" />
<rect x="85" y="258.962" width="4" height="4.4375" fill="#000" />
<rect x="90" y="258.962" width="4" height="4.4375" fill="#000" />
<rect x="85" y="264.8" width="4" height="4.4375" fill="#000" />
<rect x="90" y="264.8" width="4" height="4.4375" fill="#000" />
<rect x="85" y="270.637" width="4" height="4.4375" fill="#000" />
<rect x="90" y="270.637" width="4" height="4.4375" fill="#000" />
<rect x="85" y="276.475" width="4" height="4.4375" fill="#000" />
<rect x="90" y="276.475" width="4" height="4.4375" fill="#000" />
<rect x="85" y="282.312" width="4" height="4.4375" fill="#000" />
<rect x="90" y="282.312" width="4" height="4.4375" fill="#000" />
<rect x="85" y="288.15" width="4" height="4.4375" fill="#000" />
<rect x="90" y="288.15" width="4" height="4.4375" fill="#000" />
<rect x="85" y="293.988" width="4" height="4.4375" fill="#000" />
<rect x="90" y="293.988" width="4" height="4.4375" fill="#000" />
<rect x="85" y="299.825" width="4" height="4.4375" fill="#000" />
<rect x="90" y="299.825" width="4" height="4.4375" fill="#000" />
<rect x="85" y="305.662" width="4" height="4.4375" fill="#000" />
<rect x="90" y="305.662" width="4" height="4.4375" fill="#000" />
<rect x="85" y="311.5" width="4" height="4.4375" fill="#000" />
<rect x="90" y="311.5" width="4" height="4.4375" fill="#000" />
<rect x="85" y="317.337" width="4" height="4.4375" fill="#000" />
<rect x="90" y="317.337" width="4" height="4.4375" fill="#000" />
<rect x="85" y="323.175" width="4" height="4.4375" fill="#000" />
<rect x="90" y="323.175" width="4" height="4.4375" fill="#000" />
<rect x="85" y="329.012" width="4" height="4.4375" fill="#000" />
<rect x="90" y="329.012" width="4" height="4.4375" fill="#000" />
<rect x="85" y="334.85" width="4" height="4.4375" fill="#000" />
<rect x="90" y="334.85" width="4" height="4.4375" fill="#000" />
<rect x="85" y="340.688" width="4" height="4.4375" fill="#000" />
<rect x="90" y="340.688" width="4" height="4.4375" fill="#000" />
<rect x="85" y="346.525" width="4" height="4.4375" fill="#000" />
<rect x="90" y="346.525" width="4" height="4.4375" fill="#000" />
<rect x="85" y="352.363" width="4" height="4.4375" fill="#000" />
<rect x="90" y="352.363" width="4" height="4.4375" fill="#000" />
<rect x="85.8" y="242.15" width="2.2" height="2.9" fill="#fff" />
<polygon points="45.6,250.3 49.11,251.58 53.1,252.6 62.3,252.6 62.3,256 53.1,256 49.11,257.02 45.6,258.3" fill="#000" shape-rendering="auto"/>
<polygon points="43.5,252.3 47.15,252.62 49.95,253.8 54.1,253.8 54.1,254.8 49.95,254.8 47.15,255.98 43.5,256.3" fill="#fff" shape-rendering="auto"/>
<rect x="3" y="244.8" width="43.5" height="18.8" rx="3.5" ry="3.5" fill="#000" shape-rendering="auto"/>
<rect x="5" y="246.8" width="39.2" height="14.5" rx="2.5" ry="2.5" fill="#fff" shape-rendering="auto"/>
<text transform="translate(9.2,258.7) scale(0.76,1)" font-size="13" text-anchor="middle" fill="#000" stroke="#000" stroke-width="0.25">C</text>
<text transform="translate(21.3,258.7) scale(0.76,1)" font-size="13" text-anchor="middle" fill="#000" stroke="#000" stroke-width="0.25">N</text>
<path d="M32,258.7 V249.405 M32.1,249.605 L29.5,252.105" fill="none" stroke="#000" stroke-width="1.05" stroke-linecap="butt" shape-rendering="auto"/>
<text transform="translate(39.6,258.7) scale(0.76,1)" font-size="13" text-anchor="middle" fill="#000" stroke="#000" stroke-width="0.25">4</text>
<rect x="43.5" y="252.3" width="3.2" height="4" fill="#fff" />
<polygon points="112.1,252.4 108.59,253.68 104.6,254.7 96,254.7 96,258.1 104.6,258.1 108.59,259.12 112.1,260.4" fill="#000" shape-rendering="auto"/>
<polygon points="114.2,254.4 110.55,254.72 107.75,255.9 103.6,255.9 103.6,256.9 107.75,256.9 110.55,258.08 114.2,258.4" fill="#fff" shape-rendering="auto"/>
<rect x="117" y="238" width="16" height="9" fill="#000" />
<rect x="118" y="239" width="14" height="7" fill="#fff" />
<rect x="120" y="238" width="1" height="9" fill="#000" />
<rect x="126" y="238" width="1" height="9" fill="#000" />
<rect x="117" y="246.5" width="16" height="245.5" fill="#000" />
<rect x="118" y="248" width="1" height="244" fill="#fff" />
<rect x="131.2" y="248" width="0.8" height="244" fill="#fff" />
<rect x="120.5" y="250.5" width="4.5" height="1.35" fill="#fff" />
<rect x="119" y="250.7" width="1" height="0.7" fill="#fff" />
<rect x="120.5" y="253.25" width="4.5" height="1.35" fill="#fff" />
<rect x="119" y="253.45" width="1" height="0.7" fill="#fff" />
<rect x="120.5" y="256" width="4.5" height="1.35" fill="#fff" />
<rect x="119" y="256.2" width="1" height="0.7" fill="#fff" />
<rect x="120.5" y="258.75" width="4.5" height="1.35" fill="#fff" />
<rect x="119" y="258.95" width="1" height="0.7" fill="#fff" />
<rect x="120.5" y="261.5" width="4.5" height="1.35" fill="#fff" />
<rect x="119" y="261.7" width="1" height="0.7" fill="#fff" />
<rect x="120.5" y="264.25" width="4.5" height="1.35" fill="#fff" />
<rect x="119" y="264.45" width="1" height="0.7" fill="#fff" />
<rect x="120.5" y="267" width="4.5" height="1.35" fill="#fff" />
<rect x="119" y="267.2" width="1" height="0.7" fill="#fff" />
<rect x="120.5" y="269.75" width="4.5" height="1.35" fill="#fff" />
<rect x="119" y="269.95" width="1" height="0.7" fill="#fff" />
<rect x="120.5" y="272.5" width="4.5" height="1.35" fill="#fff" />
<rect x="119" y="272.7" width="1" height="0.7" fill="#fff" />
<rect x="120.5" y="275.25" width="4.5" height="1.35" fill="#fff" />
<rect x="119" y="275.45" width="1" height="0.7" fill="#fff" />
<rect x="120.5" y="278" width="4.5" height="1.35" fill="#fff" />
<rect x="119" y="278.2" width="1" height="0.7" fill="#fff" />
<rect x="120.5" y="280.75" width="4.5" height="1.35" fill="#fff" />
<rect x="119" y="280.95" width="1" height="0.7" fill="#fff" />
<rect x="120.5" y="283.5" width="4.5" height="1.35" fill="#fff" />
<rect x="119" y="283.7" width="1" height="0.7" fill="#fff" />
<rect x="120.5" y="286.25" width="4.5" height="1.35" fill="#fff" />
<rect x="119" y="286.45" width="1" height="0.7" fill="#fff" />
<rect x="120.5" y="289" width="4.5" height="1.35" fill="#fff" />
<rect x="119" y="289.2" width="1" height="0.7" fill="#fff" />
<rect x="120.5" y="291.75" width="4.5" height="1.35" fill="#fff" />
<rect x="119" y="291.95" width="1" height="0.7" fill="#fff" />
<rect x="120.5" y="294.5" width="4.5" height="1.35" fill="#fff" />
<rect x="119" y="294.7" width="1" height="0.7" fill="#fff" />
<rect x="120.5" y="297.25" width="4.5" height="1.35" fill="#fff" />
<rect x="119" y="297.45" width="1" height="0.7" fill="#fff" />
<rect x="120.5" y="300" width="4.5" height="1.35" fill="#fff" />
<rect x="119" y="300.2" width="1" height="0.7" fill="#fff" />
<rect x="120.5" y="302.75" width="4.5" height="1.35" fill="#fff" />
<rect x="119" y="302.95" width="1" height="0.7" fill="#fff" />
<rect x="120.5" y="305.5" width="4.5" height="1.35" fill="#fff" />
<rect x="119" y="305.7" width="1" height="0.7" fill="#fff" />
<rect x="120.5" y="308.25" width="4.5" height="1.35" fill="#fff" />
<rect x="119" y="308.45" width="1" height="0.7" fill="#fff" />
<rect x="120.5" y="311" width="4.5" height="1.35" fill="#fff" />
<rect x="119" y="311.2" width="1" height="0.7" fill="#fff" />
<rect x="120.5" y="313.75" width="4.5" height="1.35" fill="#fff" />
<rect x="119" y="313.95" width="1" height="0.7" fill="#fff" />
<rect x="120.5" y="316.5" width="4.5" height="1.35" fill="#fff" />
<rect x="119" y="316.7" width="1" height="0.7" fill="#fff" />
<rect x="120.5" y="319.25" width="4.5" height="1.35" fill="#fff" />
<rect x="119" y="319.45" width="1" height="0.7" fill="#fff" />
<rect x="120.5" y="322" width="4.5" height="1.35" fill="#fff" />
<rect x="119" y="322.2" width="1" height="0.7" fill="#fff" />
<rect x="120.5" y="324.75" width="4.5" height="1.35" fill="#fff" />
<rect x="119" y="324.95" width="1" height="0.7" fill="#fff" />
<rect x="120.5" y="327.5" width="4.5" height="1.35" fill="#fff" />
<rect x="119" y="327.7" width="1" height="0.7" fill="#fff" />
<rect x="120.5" y="330.25" width="4.5" height="1.35" fill="#fff" />
<rect x="119" y="330.45" width="1" height="0.7" fill="#fff" />
<rect x="120.5" y="333" width="4.5" height="1.35" fill="#fff" />
<rect x="119" y="333.2" width="1" height="0.7" fill="#fff" />
<rect x="120.5" y="335.75" width="4.5" height="1.35" fill="#fff" />
<rect x="119" y="335.95" width="1" height="0.7" fill="#fff" />
<rect x="120.5" y="338.5" width="4.5" height="1.35" fill="#fff" />
<rect x="119" y="338.7" width="1" height="0.7" fill="#fff" />
<rect x="120.5" y="341.25" width="4.5" height="1.35" fill="#fff" />
<rect x="119" y="341.45" width="1" height="0.7" fill="#fff" />
<rect x="120.5" y="344" width="4.5" height="1.35" fill="#fff" />
<rect x="119" y="344.2" width="1" height="0.7" fill="#fff" />
<rect x="120.5" y="346.75" width="4.5" height="1.35" fill="#fff" />
<rect x="119" y="346.95" width="1" height="0.7" fill="#fff" />
<rect x="120.5" y="349.5" width="4.5" height="1.35" fill="#fff" />
<rect x="119" y="349.7" width="1" height="0.7" fill="#fff" />
<rect x="120.5" y="352.25" width="4.5" height="1.35" fill="#fff" />
<rect x="119" y="352.45" width="1" height="0.7" fill="#fff" />
<rect x="120.5" y="355" width="4.5" height="1.35" fill="#fff" />
<rect x="119" y="355.2" width="1" height="0.7" fill="#fff" />
<rect x="120.5" y="357.75" width="4.5" height="1.35" fill="#fff" />
<rect x="119" y="357.95" width="1" height="0.7" fill="#fff" />
<rect x="120.5" y="360.5" width="4.5" height="1.35" fill="#fff" />
<rect x="119" y="360.7" width="1" height="0.7" fill="#fff" />
<rect x="120.5" y="363.25" width="4.5" height="1.35" fill="#fff" />
<rect x="119" y="363.45" width="1" height="0.7" fill="#fff" />
<rect x="120.5" y="366" width="4.5" height="1.35" fill="#fff" />
<rect x="119" y="366.2" width="1" height="0.7" fill="#fff" />
<rect x="120.5" y="368.75" width="4.5" height="1.35" fill="#fff" />
<rect x="119" y="368.95" width="1" height="0.7" fill="#fff" />
<rect x="120.5" y="371.5" width="4.5" height="1.35" fill="#fff" />
<rect x="119" y="371.7" width="1" height="0.7" fill="#fff" />
<rect x="120.5" y="374.25" width="4.5" height="1.35" fill="#fff" />
<rect x="119" y="374.45" width="1" height="0.7" fill="#fff" />
<rect x="120.5" y="377" width="4.5" height="1.35" fill="#fff" />
<rect x="119" y="377.2" width="1" height="0.7" fill="#fff" />
<rect x="120.5" y="379.75" width="4.5" height="1.35" fill="#fff" />
<rect x="119" y="379.95" width="1" height="0.7" fill="#fff" />
<rect x="120.5" y="382.5" width="4.5" height="1.35" fill="#fff" />
<rect x="119" y="382.7" width="1" height="0.7" fill="#fff" />
<rect x="120.5" y="385.25" width="4.5" height="1.35" fill="#fff" />
<rect x="119" y="385.45" width="1" height="0.7" fill="#fff" />
<rect x="120.5" y="388" width="4.5" height="1.35" fill="#fff" />
<rect x="119" y="388.2" width="1" height="0.7" fill="#fff" />
<rect x="120.5" y="390.75" width="4.5" height="1.35" fill="#fff" />
<rect x="119" y="390.95" width="1" height="0.7" fill="#fff" />
<rect x="120.5" y="393.5" width="4.5" height="1.35" fill="#fff" />
<rect x="119" y="393.7" width="1" height="0.7" fill="#fff" />
<rect x="120.5" y="396.25" width="4.5" height="1.35" fill="#fff" />
<rect x="119" y="396.45" width="1" height="0.7" fill="#fff" />
<rect x="120.5" y="399" width="4.5" height="1.35" fill="#fff" />
<rect x="119" y="399.2" width="1" height="0.7" fill="#fff" />
<rect x="120.5" y="401.75" width="4.5" height="1.35" fill="#fff" />
<rect x="119" y="401.95" width="1" height="0.7" fill="#fff" />
<rect x="120.5" y="404.5" width="4.5" height="1.35" fill="#fff" />
<rect x="119" y="404.7" width="1" height="0.7" fill="#fff" />
<rect x="120.5" y="407.25" width="4.5" height="1.35" fill="#fff" />
<rect x="119" y="407.45" width="1" height="0.7" fill="#fff" />
<rect x="120.5" y="410" width="4.5" height="1.35" fill="#fff" />
<rect x="119" y="410.2" width="1" height="0.7" fill="#fff" />
<rect x="120.5" y="412.75" width="4.5" height="1.35" fill="#fff" />
<rect x="119" y="412.95" width="1" height="0.7" fill="#fff" />
<rect x="120.5" y="415.5" width="4.5" height="1.35" fill="#fff" />
<rect x="119" y="415.7" width="1" height="0.7" fill="#fff" />
<rect x="120.5" y="418.25" width="4.5" height="1.35" fill="#fff" />
<rect x="119" y="418.45" width="1" height="0.7" fill="#fff" />
<rect x="120.5" y="421" width="4.5" height="1.35" fill="#fff" />
<rect x="119" y="421.2" width="1" height="0.7" fill="#fff" />
<rect x="120.5" y="423.75" width="4.5" height="1.35" fill="#fff" />
<rect x="119" y="423.95" width="1" height="0.7" fill="#fff" />
<rect x="120.5" y="426.5" width="4.5" height="1.35" fill="#fff" />
<rect x="119" y="426.7" width="1" height="0.7" fill="#fff" />
<rect x="120.5" y="429.25" width="4.5" height="1.35" fill="#fff" />
<rect x="119" y="429.45" width="1" height="0.7" fill="#fff" />
<rect x="120.5" y="432" width="4.5" height="1.35" fill="#fff" />
<rect x="119" y="432.2" width="1" height="0.7" fill="#fff" />
<rect x="120.5" y="434.75" width="4.5" height="1.35" fill="#fff" />
<rect x="119" y="434.95" width="1" height="0.7" fill="#fff" />
<rect x="120.5" y="437.5" width="4.5" height="1.35" fill="#fff" />
<rect x="119" y="437.7" width="1" height="0.7" fill="#fff" />
<rect x="120.5" y="440.25" width="4.5" height="1.35" fill="#fff" />
<rect x="119" y="440.45" width="1" height="0.7" fill="#fff" />
<rect x="120.5" y="443" width="4.5" height="1.35" fill="#fff" />
<rect x="119" y="443.2" width="1" height="0.7" fill="#fff" />
<rect x="120.5" y="445.75" width="4.5" height="1.35" fill="#fff" />
<rect x="119" y="445.95" width="1" height="0.7" fill="#fff" />
<rect x="120.5" y="448.5" width="4.5" height="1.35" fill="#fff" />
<rect x="119" y="448.7" width="1" height="0.7" fill="#fff" />
<rect x="120.5" y="451.25" width="4.5" height="1.35" fill="#fff" />
<rect x="119" y="451.45" width="1" height="0.7" fill="#fff" />
<rect x="120.5" y="454" width="4.5" height="1.35" fill="#fff" />
<rect x="119" y="454.2" width="1" height="0.7" fill="#fff" />
<rect x="120.5" y="456.75" width="4.5" height="1.35" fill="#fff" />
<rect x="119" y="456.95" width="1" height="0.7" fill="#fff" />
<rect x="120.5" y="459.5" width="4.5" height="1.35" fill="#fff" />
<rect x="119" y="459.7" width="1" height="0.7" fill="#fff" />
<rect x="120.5" y="462.25" width="4.5" height="1.35" fill="#fff" />
<rect x="119" y="462.45" width="1" height="0.7" fill="#fff" />
<rect x="120.5" y="465" width="4.5" height="1.35" fill="#fff" />
<rect x="119" y="465.2" width="1" height="0.7" fill="#fff" />
<rect x="120.5" y="467.75" width="4.5" height="1.35" fill="#fff" />
<rect x="119" y="467.95" width="1" height="0.7" fill="#fff" />
<rect x="120.5" y="470.5" width="4.5" height="1.35" fill="#fff" />
<rect x="119" y="470.7" width="1" height="0.7" fill="#fff" />
<rect x="120.5" y="473.25" width="4.5" height="1.35" fill="#fff" />
<rect x="119" y="473.45" width="1" height="0.7" fill="#fff" />
<rect x="120.5" y="476" width="4.5" height="1.35" fill="#fff" />
<rect x="119" y="476.2" width="1" height="0.7" fill="#fff" />
<rect x="120.5" y="478.75" width="4.5" height="1.35" fill="#fff" />
<rect x="119" y="478.95" width="1" height="0.7" fill="#fff" />
<rect x="120.5" y="481.5" width="4.5" height="1.35" fill="#fff" />
<rect x="119" y="481.7" width="1" height="0.7" fill="#fff" />
<rect x="120.5" y="484.25" width="4.5" height="1.35" fill="#fff" />
<rect x="119" y="484.45" width="1" height="0.7" fill="#fff" />
<rect x="120.5" y="487" width="4.5" height="1.35" fill="#fff" />
<rect x="119" y="487.2" width="1" height="0.7" fill="#fff" />
<rect x="120.5" y="489.75" width="4.5" height="1.35" fill="#fff" />
<rect x="119" y="489.95" width="1" height="0.7" fill="#fff" />
<rect x="118" y="492" width="14" height="8" fill="#fff" />
<rect x="117" y="492" width="1" height="68" fill="#000" />
<rect x="132" y="492" width="1" height="68" fill="#000" />
<rect x="119.3" y="500" width="11.9" height="37" fill="#000" />
<rect x="120.5" y="503" width="4.5" height="1.35" fill="#fff" />
<rect x="120.5" y="505.75" width="4.5" height="1.35" fill="#fff" />
<rect x="120.5" y="508.5" width="4.5" height="1.35" fill="#fff" />
<rect x="120.5" y="511.25" width="4.5" height="1.35" fill="#fff" />
<rect x="120.5" y="514" width="4.5" height="1.35" fill="#fff" />
<rect x="120.5" y="516.75" width="4.5" height="1.35" fill="#fff" />
<rect x="120.5" y="522.25" width="4.5" height="1.35" fill="#fff" />
<rect x="120.5" y="525" width="4.5" height="1.35" fill="#fff" />
<rect x="120.5" y="527.75" width="4.5" height="1.35" fill="#fff" />
<rect x="120.5" y="530.5" width="4.5" height="1.35" fill="#fff" />
<rect x="120.5" y="533.25" width="4.5" height="1.35" fill="#fff" />
<rect x="120.5" y="538" width="11.5" height="11" fill="#000" />
<rect x="121.5" y="539" width="9.5" height="9" fill="#fff" />
<rect x="124.5" y="541" width="3.5" height="1" fill="#000" />
<rect x="124.5" y="541" width="1" height="4.5" fill="#000" />
<rect x="124.5" y="544.5" width="2.5" height="1" fill="#000" />
<rect x="127" y="544.5" width="1" height="3" fill="#000" />
<rect x="119" y="548.5" width="13" height="3.5" fill="#000" />
<rect x="117" y="559" width="16" height="1" fill="#000" />
<rect x="120" y="552" width="1" height="8" fill="#000" />
<rect x="126.5" y="552" width="1" height="8" fill="#000" />
<rect x="134.25" y="238" width="16" height="9" fill="#000" />
<rect x="135.25" y="239" width="14" height="7" fill="#fff" />
<rect x="137.25" y="238" width="1" height="9" fill="#000" />
<rect x="143.25" y="238" width="1" height="9" fill="#000" />
<rect x="134.25" y="246.5" width="16" height="245.5" fill="#000" />
<rect x="135.25" y="248" width="1" height="244" fill="#fff" />
<rect x="148.45" y="248" width="0.8" height="244" fill="#fff" />
<rect x="137.75" y="250.5" width="4.5" height="1.35" fill="#fff" />
<rect x="136.25" y="250.7" width="1" height="0.7" fill="#fff" />
<rect x="137.75" y="253.25" width="4.5" height="1.35" fill="#fff" />
<rect x="136.25" y="253.45" width="1" height="0.7" fill="#fff" />
<rect x="137.75" y="256" width="4.5" height="1.35" fill="#fff" />
<rect x="136.25" y="256.2" width="1" height="0.7" fill="#fff" />
<rect x="137.75" y="258.75" width="4.5" height="1.35" fill="#fff" />
<rect x="136.25" y="258.95" width="1" height="0.7" fill="#fff" />
<rect x="137.75" y="261.5" width="4.5" height="1.35" fill="#fff" />
<rect x="136.25" y="261.7" width="1" height="0.7" fill="#fff" />
<rect x="137.75" y="264.25" width="4.5" height="1.35" fill="#fff" />
<rect x="136.25" y="264.45" width="1" height="0.7" fill="#fff" />
<rect x="137.75" y="267" width="4.5" height="1.35" fill="#fff" />
<rect x="136.25" y="267.2" width="1" height="0.7" fill="#fff" />
<rect x="137.75" y="269.75" width="4.5" height="1.35" fill="#fff" />
<rect x="136.25" y="269.95" width="1" height="0.7" fill="#fff" />
<rect x="137.75" y="272.5" width="4.5" height="1.35" fill="#fff" />
<rect x="136.25" y="272.7" width="1" height="0.7" fill="#fff" />
<rect x="137.75" y="275.25" width="4.5" height="1.35" fill="#fff" />
<rect x="136.25" y="275.45" width="1" height="0.7" fill="#fff" />
<rect x="137.75" y="278" width="4.5" height="1.35" fill="#fff" />
<rect x="136.25" y="278.2" width="1" height="0.7" fill="#fff" />
<rect x="137.75" y="280.75" width="4.5" height="1.35" fill="#fff" />
<rect x="136.25" y="280.95" width="1" height="0.7" fill="#fff" />
<rect x="137.75" y="283.5" width="4.5" height="1.35" fill="#fff" />
<rect x="136.25" y="283.7" width="1" height="0.7" fill="#fff" />
<rect x="137.75" y="286.25" width="4.5" height="1.35" fill="#fff" />
<rect x="136.25" y="286.45" width="1" height="0.7" fill="#fff" />
<rect x="137.75" y="289" width="4.5" height="1.35" fill="#fff" />
<rect x="136.25" y="289.2" width="1" height="0.7" fill="#fff" />
<rect x="137.75" y="291.75" width="4.5" height="1.35" fill="#fff" />
<rect x="136.25" y="291.95" width="1" height="0.7" fill="#fff" />
<rect x="137.75" y="294.5" width="4.5" height="1.35" fill="#fff" />
<rect x="136.25" y="294.7" width="1" height="0.7" fill="#fff" />
<rect x="137.75" y="297.25" width="4.5" height="1.35" fill="#fff" />
<rect x="136.25" y="297.45" width="1" height="0.7" fill="#fff" />
<rect x="137.75" y="300" width="4.5" height="1.35" fill="#fff" />
<rect x="136.25" y="300.2" width="1" height="0.7" fill="#fff" />
<rect x="137.75" y="302.75" width="4.5" height="1.35" fill="#fff" />
<rect x="136.25" y="302.95" width="1" height="0.7" fill="#fff" />
<rect x="137.75" y="305.5" width="4.5" height="1.35" fill="#fff" />
<rect x="136.25" y="305.7" width="1" height="0.7" fill="#fff" />
<rect x="137.75" y="308.25" width="4.5" height="1.35" fill="#fff" />
<rect x="136.25" y="308.45" width="1" height="0.7" fill="#fff" />
<rect x="137.75" y="311" width="4.5" height="1.35" fill="#fff" />
<rect x="136.25" y="311.2" width="1" height="0.7" fill="#fff" />
<rect x="137.75" y="313.75" width="4.5" height="1.35" fill="#fff" />
<rect x="136.25" y="313.95" width="1" height="0.7" fill="#fff" />
<rect x="137.75" y="316.5" width="4.5" height="1.35" fill="#fff" />
<rect x="136.25" y="316.7" width="1" height="0.7" fill="#fff" />
<rect x="137.75" y="319.25" width="4.5" height="1.35" fill="#fff" />
<rect x="136.25" y="319.45" width="1" height="0.7" fill="#fff" />
<rect x="137.75" y="322" width="4.5" height="1.35" fill="#fff" />
<rect x="136.25" y="322.2" width="1" height="0.7" fill="#fff" />
<rect x="137.75" y="324.75" width="4.5" height="1.35" fill="#fff" />
<rect x="136.25" y="324.95" width="1" height="0.7" fill="#fff" />
<rect x="137.75" y="327.5" width="4.5" height="1.35" fill="#fff" />
<rect x="136.25" y="327.7" width="1" height="0.7" fill="#fff" />
<rect x="137.75" y="330.25" width="4.5" height="1.35" fill="#fff" />
<rect x="136.25" y="330.45" width="1" height="0.7" fill="#fff" />
<rect x="137.75" y="333" width="4.5" height="1.35" fill="#fff" />
<rect x="136.25" y="333.2" width="1" height="0.7" fill="#fff" />
<rect x="137.75" y="335.75" width="4.5" height="1.35" fill="#fff" />
<rect x="136.25" y="335.95" width="1" height="0.7" fill="#fff" />
<rect x="137.75" y="338.5" width="4.5" height="1.35" fill="#fff" />
<rect x="136.25" y="338.7" width="1" height="0.7" fill="#fff" />
<rect x="137.75" y="341.25" width="4.5" height="1.35" fill="#fff" />
<rect x="136.25" y="341.45" width="1" height="0.7" fill="#fff" />
<rect x="137.75" y="344" width="4.5" height="1.35" fill="#fff" />
<rect x="136.25" y="344.2" width="1" height="0.7" fill="#fff" />
<rect x="137.75" y="346.75" width="4.5" height="1.35" fill="#fff" />
<rect x="136.25" y="346.95" width="1" height="0.7" fill="#fff" />
<rect x="137.75" y="349.5" width="4.5" height="1.35" fill="#fff" />
<rect x="136.25" y="349.7" width="1" height="0.7" fill="#fff" />
<rect x="137.75" y="352.25" width="4.5" height="1.35" fill="#fff" />
<rect x="136.25" y="352.45" width="1" height="0.7" fill="#fff" />
<rect x="137.75" y="355" width="4.5" height="1.35" fill="#fff" />
<rect x="136.25" y="355.2" width="1" height="0.7" fill="#fff" />
<rect x="137.75" y="357.75" width="4.5" height="1.35" fill="#fff" />
<rect x="136.25" y="357.95" width="1" height="0.7" fill="#fff" />
<rect x="137.75" y="360.5" width="4.5" height="1.35" fill="#fff" />
<rect x="136.25" y="360.7" width="1" height="0.7" fill="#fff" />
<rect x="137.75" y="363.25" width="4.5" height="1.35" fill="#fff" />
<rect x="136.25" y="363.45" width="1" height="0.7" fill="#fff" />
<rect x="137.75" y="366" width="4.5" height="1.35" fill="#fff" />
<rect x="136.25" y="366.2" width="1" height="0.7" fill="#fff" />
<rect x="137.75" y="368.75" width="4.5" height="1.35" fill="#fff" />
<rect x="136.25" y="368.95" width="1" height="0.7" fill="#fff" />
<rect x="137.75" y="371.5" width="4.5" height="1.35" fill="#fff" />
<rect x="136.25" y="371.7" width="1" height="0.7" fill="#fff" />
<rect x="137.75" y="374.25" width="4.5" height="1.35" fill="#fff" />
<rect x="136.25" y="374.45" width="1" height="0.7" fill="#fff" />
<rect x="137.75" y="377" width="4.5" height="1.35" fill="#fff" />
<rect x="136.25" y="377.2" width="1" height="0.7" fill="#fff" />
<rect x="137.75" y="379.75" width="4.5" height="1.35" fill="#fff" />
<rect x="136.25" y="379.95" width="1" height="0.7" fill="#fff" />
<rect x="137.75" y="382.5" width="4.5" height="1.35" fill="#fff" />
<rect x="136.25" y="382.7" width="1" height="0.7" fill="#fff" />
<rect x="137.75" y="385.25" width="4.5" height="1.35" fill="#fff" />
<rect x="136.25" y="385.45" width="1" height="0.7" fill="#fff" />
<rect x="137.75" y="388" width="4.5" height="1.35" fill="#fff" />
<rect x="136.25" y="388.2" width="1" height="0.7" fill="#fff" />
<rect x="137.75" y="390.75" width="4.5" height="1.35" fill="#fff" />
<rect x="136.25" y="390.95" width="1" height="0.7" fill="#fff" />
<rect x="137.75" y="393.5" width="4.5" height="1.35" fill="#fff" />
<rect x="136.25" y="393.7" width="1" height="0.7" fill="#fff" />
<rect x="137.75" y="396.25" width="4.5" height="1.35" fill="#fff" />
<rect x="136.25" y="396.45" width="1" height="0.7" fill="#fff" />
<rect x="137.75" y="399" width="4.5" height="1.35" fill="#fff" />
<rect x="136.25" y="399.2" width="1" height="0.7" fill="#fff" />
<rect x="137.75" y="401.75" width="4.5" height="1.35" fill="#fff" />
<rect x="136.25" y="401.95" width="1" height="0.7" fill="#fff" />
<rect x="137.75" y="404.5" width="4.5" height="1.35" fill="#fff" />
<rect x="136.25" y="404.7" width="1" height="0.7" fill="#fff" />
<rect x="137.75" y="407.25" width="4.5" height="1.35" fill="#fff" />
<rect x="136.25" y="407.45" width="1" height="0.7" fill="#fff" />
<rect x="137.75" y="410" width="4.5" height="1.35" fill="#fff" />
<rect x="136.25" y="410.2" width="1" height="0.7" fill="#fff" />
<rect x="137.75" y="412.75" width="4.5" height="1.35" fill="#fff" />
<rect x="136.25" y="412.95" width="1" height="0.7" fill="#fff" />
<rect x="137.75" y="415.5" width="4.5" height="1.35" fill="#fff" />
<rect x="136.25" y="415.7" width="1" height="0.7" fill="#fff" />
<rect x="137.75" y="418.25" width="4.5" height="1.35" fill="#fff" />
<rect x="136.25" y="418.45" width="1" height="0.7" fill="#fff" />
<rect x="137.75" y="421" width="4.5" height="1.35" fill="#fff" />
<rect x="136.25" y="421.2" width="1" height="0.7" fill="#fff" />
<rect x="137.75" y="423.75" width="4.5" height="1.35" fill="#fff" />
<rect x="136.25" y="423.95" width="1" height="0.7" fill="#fff" />
<rect x="137.75" y="426.5" width="4.5" height="1.35" fill="#fff" />
<rect x="136.25" y="426.7" width="1" height="0.7" fill="#fff" />
<rect x="137.75" y="429.25" width="4.5" height="1.35" fill="#fff" />
<rect x="136.25" y="429.45" width="1" height="0.7" fill="#fff" />
<rect x="137.75" y="432" width="4.5" height="1.35" fill="#fff" />
<rect x="136.25" y="432.2" width="1" height="0.7" fill="#fff" />
<rect x="137.75" y="434.75" width="4.5" height="1.35" fill="#fff" />
<rect x="136.25" y="434.95" width="1" height="0.7" fill="#fff" />
<rect x="137.75" y="437.5" width="4.5" height="1.35" fill="#fff" />
<rect x="136.25" y="437.7" width="1" height="0.7" fill="#fff" />
<rect x="137.75" y="440.25" width="4.5" height="1.35" fill="#fff" />
<rect x="136.25" y="440.45" width="1" height="0.7" fill="#fff" />
<rect x="137.75" y="443" width="4.5" height="1.35" fill="#fff" />
<rect x="136.25" y="443.2" width="1" height="0.7" fill="#fff" />
<rect x="137.75" y="445.75" width="4.5" height="1.35" fill="#fff" />
<rect x="136.25" y="445.95" width="1" height="0.7" fill="#fff" />
<rect x="137.75" y="448.5" width="4.5" height="1.35" fill="#fff" />
<rect x="136.25" y="448.7" width="1" height="0.7" fill="#fff" />
<rect x="137.75" y="451.25" width="4.5" height="1.35" fill="#fff" />
<rect x="136.25" y="451.45" width="1" height="0.7" fill="#fff" />
<rect x="137.75" y="454" width="4.5" height="1.35" fill="#fff" />
<rect x="136.25" y="454.2" width="1" height="0.7" fill="#fff" />
<rect x="137.75" y="456.75" width="4.5" height="1.35" fill="#fff" />
<rect x="136.25" y="456.95" width="1" height="0.7" fill="#fff" />
<rect x="137.75" y="459.5" width="4.5" height="1.35" fill="#fff" />
<rect x="136.25" y="459.7" width="1" height="0.7" fill="#fff" />
<rect x="137.75" y="462.25" width="4.5" height="1.35" fill="#fff" />
<rect x="136.25" y="462.45" width="1" height="0.7" fill="#fff" />
<rect x="137.75" y="465" width="4.5" height="1.35" fill="#fff" />
<rect x="136.25" y="465.2" width="1" height="0.7" fill="#fff" />
<rect x="137.75" y="467.75" width="4.5" height="1.35" fill="#fff" />
<rect x="136.25" y="467.95" width="1" height="0.7" fill="#fff" />
<rect x="137.75" y="470.5" width="4.5" height="1.35" fill="#fff" />
<rect x="136.25" y="470.7" width="1" height="0.7" fill="#fff" />
<rect x="137.75" y="473.25" width="4.5" height="1.35" fill="#fff" />
<rect x="136.25" y="473.45" width="1" height="0.7" fill="#fff" />
<rect x="137.75" y="476" width="4.5" height="1.35" fill="#fff" />
<rect x="136.25" y="476.2" width="1" height="0.7" fill="#fff" />
<rect x="137.75" y="478.75" width="4.5" height="1.35" fill="#fff" />
<rect x="136.25" y="478.95" width="1" height="0.7" fill="#fff" />
<rect x="137.75" y="481.5" width="4.5" height="1.35" fill="#fff" />
<rect x="136.25" y="481.7" width="1" height="0.7" fill="#fff" />
<rect x="137.75" y="484.25" width="4.5" height="1.35" fill="#fff" />
<rect x="136.25" y="484.45" width="1" height="0.7" fill="#fff" />
<rect x="137.75" y="487" width="4.5" height="1.35" fill="#fff" />
<rect x="136.25" y="487.2" width="1" height="0.7" fill="#fff" />
<rect x="137.75" y="489.75" width="4.5" height="1.35" fill="#fff" />
<rect x="136.25" y="489.95" width="1" height="0.7" fill="#fff" />
<rect x="135.25" y="492" width="14" height="8" fill="#fff" />
<rect x="134.25" y="492" width="1" height="68" fill="#000" />
<rect x="149.25" y="492" width="1" height="68" fill="#000" />
<rect x="136.55" y="500" width="11.9" height="37" fill="#000" />
<rect x="137.75" y="503" width="4.5" height="1.35" fill="#fff" />
<rect x="137.75" y="505.75" width="4.5" height="1.35" fill="#fff" />
<rect x="137.75" y="508.5" width="4.5" height="1.35" fill="#fff" />
<rect x="137.75" y="511.25" width="4.5" height="1.35" fill="#fff" />
<rect x="137.75" y="514" width="4.5" height="1.35" fill="#fff" />
<rect x="137.75" y="516.75" width="4.5" height="1.35" fill="#fff" />
<rect x="137.75" y="522.25" width="4.5" height="1.35" fill="#fff" />
<rect x="137.75" y="525" width="4.5" height="1.35" fill="#fff" />
<rect x="137.75" y="527.75" width="4.5" height="1.35" fill="#fff" />
<rect x="137.75" y="530.5" width="4.5" height="1.35" fill="#fff" />
<rect x="137.75" y="533.25" width="4.5" height="1.35" fill="#fff" />
<rect x="137.75" y="538" width="11.5" height="11" fill="#000" />
<rect x="138.75" y="539" width="9.5" height="9" fill="#fff" />
<rect x="141.75" y="541" width="3.5" height="1" fill="#000" />
<rect x="141.75" y="541" width="1" height="4.5" fill="#000" />
<rect x="141.75" y="544.5" width="2.5" height="1" fill="#000" />
<rect x="144.25" y="544.5" width="1" height="3" fill="#000" />
<rect x="136.25" y="548.5" width="13" height="3.5" fill="#000" />
<rect x="134.25" y="559" width="16" height="1" fill="#000" />
<rect x="137.25" y="552" width="1" height="8" fill="#000" />
<rect x="143.75" y="552" width="1" height="8" fill="#000" />
<rect x="151.2" y="238" width="16" height="9" fill="#000" />
<rect x="152.2" y="239" width="14" height="7" fill="#fff" />
<rect x="154.2" y="238" width="1" height="9" fill="#000" />
<rect x="160.2" y="238" width="1" height="9" fill="#000" />
<rect x="151.2" y="246.5" width="16" height="245.5" fill="#000" />
<rect x="152.2" y="248" width="1" height="244" fill="#fff" />
<rect x="165.4" y="248" width="0.8" height="244" fill="#fff" />
<rect x="154.7" y="250.5" width="4.5" height="1.35" fill="#fff" />
<rect x="153.2" y="250.7" width="1" height="0.7" fill="#fff" />
<rect x="154.7" y="253.25" width="4.5" height="1.35" fill="#fff" />
<rect x="153.2" y="253.45" width="1" height="0.7" fill="#fff" />
<rect x="154.7" y="256" width="4.5" height="1.35" fill="#fff" />
<rect x="153.2" y="256.2" width="1" height="0.7" fill="#fff" />
<rect x="154.7" y="258.75" width="4.5" height="1.35" fill="#fff" />
<rect x="153.2" y="258.95" width="1" height="0.7" fill="#fff" />
<rect x="154.7" y="261.5" width="4.5" height="1.35" fill="#fff" />
<rect x="153.2" y="261.7" width="1" height="0.7" fill="#fff" />
<rect x="154.7" y="264.25" width="4.5" height="1.35" fill="#fff" />
<rect x="153.2" y="264.45" width="1" height="0.7" fill="#fff" />
<rect x="154.7" y="267" width="4.5" height="1.35" fill="#fff" />
<rect x="153.2" y="267.2" width="1" height="0.7" fill="#fff" />
<rect x="154.7" y="269.75" width="4.5" height="1.35" fill="#fff" />
<rect x="153.2" y="269.95" width="1" height="0.7" fill="#fff" />
<rect x="154.7" y="272.5" width="4.5" height="1.35" fill="#fff" />
<rect x="153.2" y="272.7" width="1" height="0.7" fill="#fff" />
<rect x="154.7" y="275.25" width="4.5" height="1.35" fill="#fff" />
<rect x="153.2" y="275.45" width="1" height="0.7" fill="#fff" />
<rect x="154.7" y="278" width="4.5" height="1.35" fill="#fff" />
<rect x="153.2" y="278.2" width="1" height="0.7" fill="#fff" />
<rect x="154.7" y="280.75" width="4.5" height="1.35" fill="#fff" />
<rect x="153.2" y="280.95" width="1" height="0.7" fill="#fff" />
<rect x="154.7" y="283.5" width="4.5" height="1.35" fill="#fff" />
<rect x="153.2" y="283.7" width="1" height="0.7" fill="#fff" />
<rect x="154.7" y="286.25" width="4.5" height="1.35" fill="#fff" />
<rect x="153.2" y="286.45" width="1" height="0.7" fill="#fff" />
<rect x="154.7" y="289" width="4.5" height="1.35" fill="#fff" />
<rect x="153.2" y="289.2" width="1" height="0.7" fill="#fff" />
<rect x="154.7" y="291.75" width="4.5" height="1.35" fill="#fff" />
<rect x="153.2" y="291.95" width="1" height="0.7" fill="#fff" />
<rect x="154.7" y="294.5" width="4.5" height="1.35" fill="#fff" />
<rect x="153.2" y="294.7" width="1" height="0.7" fill="#fff" />
<rect x="154.7" y="297.25" width="4.5" height="1.35" fill="#fff" />
<rect x="153.2" y="297.45" width="1" height="0.7" fill="#fff" />
<rect x="154.7" y="300" width="4.5" height="1.35" fill="#fff" />
<rect x="153.2" y="300.2" width="1" height="0.7" fill="#fff" />
<rect x="154.7" y="302.75" width="4.5" height="1.35" fill="#fff" />
<rect x="153.2" y="302.95" width="1" height="0.7" fill="#fff" />
<rect x="154.7" y="305.5" width="4.5" height="1.35" fill="#fff" />
<rect x="153.2" y="305.7" width="1" height="0.7" fill="#fff" />
<rect x="154.7" y="308.25" width="4.5" height="1.35" fill="#fff" />
<rect x="153.2" y="308.45" width="1" height="0.7" fill="#fff" />
<rect x="154.7" y="311" width="4.5" height="1.35" fill="#fff" />
<rect x="153.2" y="311.2" width="1" height="0.7" fill="#fff" />
<rect x="154.7" y="313.75" width="4.5" height="1.35" fill="#fff" />
<rect x="153.2" y="313.95" width="1" height="0.7" fill="#fff" />
<rect x="154.7" y="316.5" width="4.5" height="1.35" fill="#fff" />
<rect x="153.2" y="316.7" width="1" height="0.7" fill="#fff" />
<rect x="154.7" y="319.25" width="4.5" height="1.35" fill="#fff" />
<rect x="153.2" y="319.45" width="1" height="0.7" fill="#fff" />
<rect x="154.7" y="322" width="4.5" height="1.35" fill="#fff" />
<rect x="153.2" y="322.2" width="1" height="0.7" fill="#fff" />
<rect x="154.7" y="324.75" width="4.5" height="1.35" fill="#fff" />
<rect x="153.2" y="324.95" width="1" height="0.7" fill="#fff" />
<rect x="154.7" y="327.5" width="4.5" height="1.35" fill="#fff" />
<rect x="153.2" y="327.7" width="1" height="0.7" fill="#fff" />
<rect x="154.7" y="330.25" width="4.5" height="1.35" fill="#fff" />
<rect x="153.2" y="330.45" width="1" height="0.7" fill="#fff" />
<rect x="154.7" y="333" width="4.5" height="1.35" fill="#fff" />
<rect x="153.2" y="333.2" width="1" height="0.7" fill="#fff" />
<rect x="154.7" y="335.75" width="4.5" height="1.35" fill="#fff" />
<rect x="153.2" y="335.95" width="1" height="0.7" fill="#fff" />
<rect x="154.7" y="338.5" width="4.5" height="1.35" fill="#fff" />
<rect x="153.2" y="338.7" width="1" height="0.7" fill="#fff" />
<rect x="154.7" y="341.25" width="4.5" height="1.35" fill="#fff" />
<rect x="153.2" y="341.45" width="1" height="0.7" fill="#fff" />
<rect x="154.7" y="344" width="4.5" height="1.35" fill="#fff" />
<rect x="153.2" y="344.2" width="1" height="0.7" fill="#fff" />
<rect x="154.7" y="346.75" width="4.5" height="1.35" fill="#fff" />
<rect x="153.2" y="346.95" width="1" height="0.7" fill="#fff" />
<rect x="154.7" y="349.5" width="4.5" height="1.35" fill="#fff" />
<rect x="153.2" y="349.7" width="1" height="0.7" fill="#fff" />
<rect x="154.7" y="352.25" width="4.5" height="1.35" fill="#fff" />
<rect x="153.2" y="352.45" width="1" height="0.7" fill="#fff" />
<rect x="154.7" y="355" width="4.5" height="1.35" fill="#fff" />
<rect x="153.2" y="355.2" width="1" height="0.7" fill="#fff" />
<rect x="154.7" y="357.75" width="4.5" height="1.35" fill="#fff" />
<rect x="153.2" y="357.95" width="1" height="0.7" fill="#fff" />
<rect x="154.7" y="360.5" width="4.5" height="1.35" fill="#fff" />
<rect x="153.2" y="360.7" width="1" height="0.7" fill="#fff" />
<rect x="154.7" y="363.25" width="4.5" height="1.35" fill="#fff" />
<rect x="153.2" y="363.45" width="1" height="0.7" fill="#fff" />
<rect x="154.7" y="366" width="4.5" height="1.35" fill="#fff" />
<rect x="153.2" y="366.2" width="1" height="0.7" fill="#fff" />
<rect x="154.7" y="368.75" width="4.5" height="1.35" fill="#fff" />
<rect x="153.2" y="368.95" width="1" height="0.7" fill="#fff" />
<rect x="154.7" y="371.5" width="4.5" height="1.35" fill="#fff" />
<rect x="153.2" y="371.7" width="1" height="0.7" fill="#fff" />
<rect x="154.7" y="374.25" width="4.5" height="1.35" fill="#fff" />
<rect x="153.2" y="374.45" width="1" height="0.7" fill="#fff" />
<rect x="154.7" y="377" width="4.5" height="1.35" fill="#fff" />
<rect x="153.2" y="377.2" width="1" height="0.7" fill="#fff" />
<rect x="154.7" y="379.75" width="4.5" height="1.35" fill="#fff" />
<rect x="153.2" y="379.95" width="1" height="0.7" fill="#fff" />
<rect x="154.7" y="382.5" width="4.5" height="1.35" fill="#fff" />
<rect x="153.2" y="382.7" width="1" height="0.7" fill="#fff" />
<rect x="154.7" y="385.25" width="4.5" height="1.35" fill="#fff" />
<rect x="153.2" y="385.45" width="1" height="0.7" fill="#fff" />
<rect x="154.7" y="388" width="4.5" height="1.35" fill="#fff" />
<rect x="153.2" y="388.2" width="1" height="0.7" fill="#fff" />
<rect x="154.7" y="390.75" width="4.5" height="1.35" fill="#fff" />
<rect x="153.2" y="390.95" width="1" height="0.7" fill="#fff" />
<rect x="154.7" y="393.5" width="4.5" height="1.35" fill="#fff" />
<rect x="153.2" y="393.7" width="1" height="0.7" fill="#fff" />
<rect x="154.7" y="396.25" width="4.5" height="1.35" fill="#fff" />
<rect x="153.2" y="396.45" width="1" height="0.7" fill="#fff" />
<rect x="154.7" y="399" width="4.5" height="1.35" fill="#fff" />
<rect x="153.2" y="399.2" width="1" height="0.7" fill="#fff" />
<rect x="154.7" y="401.75" width="4.5" height="1.35" fill="#fff" />
<rect x="153.2" y="401.95" width="1" height="0.7" fill="#fff" />
<rect x="154.7" y="404.5" width="4.5" height="1.35" fill="#fff" />
<rect x="153.2" y="404.7" width="1" height="0.7" fill="#fff" />
<rect x="154.7" y="407.25" width="4.5" height="1.35" fill="#fff" />
<rect x="153.2" y="407.45" width="1" height="0.7" fill="#fff" />
<rect x="154.7" y="410" width="4.5" height="1.35" fill="#fff" />
<rect x="153.2" y="410.2" width="1" height="0.7" fill="#fff" />
<rect x="154.7" y="412.75" width="4.5" height="1.35" fill="#fff" />
<rect x="153.2" y="412.95" width="1" height="0.7" fill="#fff" />
<rect x="154.7" y="415.5" width="4.5" height="1.35" fill="#fff" />
<rect x="153.2" y="415.7" width="1" height="0.7" fill="#fff" />
<rect x="154.7" y="418.25" width="4.5" height="1.35" fill="#fff" />
<rect x="153.2" y="418.45" width="1" height="0.7" fill="#fff" />
<rect x="154.7" y="421" width="4.5" height="1.35" fill="#fff" />
<rect x="153.2" y="421.2" width="1" height="0.7" fill="#fff" />
<rect x="154.7" y="423.75" width="4.5" height="1.35" fill="#fff" />
<rect x="153.2" y="423.95" width="1" height="0.7" fill="#fff" />
<rect x="154.7" y="426.5" width="4.5" height="1.35" fill="#fff" />
<rect x="153.2" y="426.7" width="1" height="0.7" fill="#fff" />
<rect x="154.7" y="429.25" width="4.5" height="1.35" fill="#fff" />
<rect x="153.2" y="429.45" width="1" height="0.7" fill="#fff" />
<rect x="154.7" y="432" width="4.5" height="1.35" fill="#fff" />
<rect x="153.2" y="432.2" width="1" height="0.7" fill="#fff" />
<rect x="154.7" y="434.75" width="4.5" height="1.35" fill="#fff" />
<rect x="153.2" y="434.95" width="1" height="0.7" fill="#fff" />
<rect x="154.7" y="437.5" width="4.5" height="1.35" fill="#fff" />
<rect x="153.2" y="437.7" width="1" height="0.7" fill="#fff" />
<rect x="154.7" y="440.25" width="4.5" height="1.35" fill="#fff" />
<rect x="153.2" y="440.45" width="1" height="0.7" fill="#fff" />
<rect x="154.7" y="443" width="4.5" height="1.35" fill="#fff" />
<rect x="153.2" y="443.2" width="1" height="0.7" fill="#fff" />
<rect x="154.7" y="445.75" width="4.5" height="1.35" fill="#fff" />
<rect x="153.2" y="445.95" width="1" height="0.7" fill="#fff" />
<rect x="154.7" y="448.5" width="4.5" height="1.35" fill="#fff" />
<rect x="153.2" y="448.7" width="1" height="0.7" fill="#fff" />
<rect x="154.7" y="451.25" width="4.5" height="1.35" fill="#fff" />
<rect x="153.2" y="451.45" width="1" height="0.7" fill="#fff" />
<rect x="154.7" y="454" width="4.5" height="1.35" fill="#fff" />
<rect x="153.2" y="454.2" width="1" height="0.7" fill="#fff" />
<rect x="154.7" y="456.75" width="4.5" height="1.35" fill="#fff" />
<rect x="153.2" y="456.95" width="1" height="0.7" fill="#fff" />
<rect x="154.7" y="459.5" width="4.5" height="1.35" fill="#fff" />
<rect x="153.2" y="459.7" width="1" height="0.7" fill="#fff" />
<rect x="154.7" y="462.25" width="4.5" height="1.35" fill="#fff" />
<rect x="153.2" y="462.45" width="1" height="0.7" fill="#fff" />
<rect x="154.7" y="465" width="4.5" height="1.35" fill="#fff" />
<rect x="153.2" y="465.2" width="1" height="0.7" fill="#fff" />
<rect x="154.7" y="467.75" width="4.5" height="1.35" fill="#fff" />
<rect x="153.2" y="467.95" width="1" height="0.7" fill="#fff" />
<rect x="154.7" y="470.5" width="4.5" height="1.35" fill="#fff" />
<rect x="153.2" y="470.7" width="1" height="0.7" fill="#fff" />
<rect x="154.7" y="473.25" width="4.5" height="1.35" fill="#fff" />
<rect x="153.2" y="473.45" width="1" height="0.7" fill="#fff" />
<rect x="154.7" y="476" width="4.5" height="1.35" fill="#fff" />
<rect x="153.2" y="476.2" width="1" height="0.7" fill="#fff" />
<rect x="154.7" y="478.75" width="4.5" height="1.35" fill="#fff" />
<rect x="153.2" y="478.95" width="1" height="0.7" fill="#fff" />
<rect x="154.7" y="481.5" width="4.5" height="1.35" fill="#fff" />
<rect x="153.2" y="481.7" width="1" height="0.7" fill="#fff" />
<rect x="154.7" y="484.25" width="4.5" height="1.35" fill="#fff" />
<rect x="153.2" y="484.45" width="1" height="0.7" fill="#fff" />
<rect x="154.7" y="487" width="4.5" height="1.35" fill="#fff" />
<rect x="153.2" y="487.2" width="1" height="0.7" fill="#fff" />
<rect x="154.7" y="489.75" width="4.5" height="1.35" fill="#fff" />
<rect x="153.2" y="489.95" width="1" height="0.7" fill="#fff" />
<rect x="152.2" y="492" width="14" height="8" fill="#fff" />
<rect x="151.2" y="492" width="1" height="68" fill="#000" />
<rect x="166.2" y="492" width="1" height="68" fill="#000" />
<rect x="153.5" y="500" width="11.9" height="37" fill="#000" />
<rect x="154.7" y="503" width="4.5" height="1.35" fill="#fff" />
<rect x="154.7" y="505.75" width="4.5" height="1.35" fill="#fff" />
<rect x="154.7" y="508.5" width="4.5" height="1.35" fill="#fff" />
<rect x="154.7" y="511.25" width="4.5" height="1.35" fill="#fff" />
<rect x="154.7" y="514" width="4.5" height="1.35" fill="#fff" />
<rect x="154.7" y="516.75" width="4.5" height="1.35" fill="#fff" />
<rect x="154.7" y="522.25" width="4.5" height="1.35" fill="#fff" />
<rect x="154.7" y="525" width="4.5" height="1.35" fill="#fff" />
<rect x="154.7" y="527.75" width="4.5" height="1.35" fill="#fff" />
<rect x="154.7" y="530.5" width="4.5" height="1.35" fill="#fff" />
<rect x="154.7" y="533.25" width="4.5" height="1.35" fill="#fff" />
<rect x="154.7" y="538" width="11.5" height="11" fill="#000" />
<rect x="155.7" y="539" width="9.5" height="9" fill="#fff" />
<rect x="158.7" y="541" width="3.5" height="1" fill="#000" />
<rect x="158.7" y="541" width="1" height="4.5" fill="#000" />
<rect x="158.7" y="544.5" width="2.5" height="1" fill="#000" />
<rect x="161.2" y="544.5" width="1" height="3" fill="#000" />
<rect x="153.2" y="548.5" width="13" height="3.5" fill="#000" />
<rect x="151.2" y="559" width="16" height="1" fill="#000" />
<rect x="154.2" y="552" width="1" height="8" fill="#000" />
<rect x="160.7" y="552" width="1" height="8" fill="#000" />
<rect x="155" y="248.5" width="11.4" height="11.5" fill="#000" />
<rect x="156" y="249.5" width="9.4" height="9.5" fill="#fff" />
<rect x="161.5" y="251" width="2.5" height="1" fill="#000" />
<rect x="163" y="251" width="1" height="4" fill="#000" />
<rect x="159" y="254.5" width="5" height="1" fill="#000" />
<rect x="159" y="254.5" width="1" height="3" fill="#000" />
<rect x="115" y="360.6" width="55" height="75" rx="2.5" fill="#000" shape-rendering="auto"/>
<rect x="117" y="362.6" width="14" height="71" fill="#fff" />
<text transform="translate(124.5,374.5) scale(0.76,1)" font-size="12.4" text-anchor="middle" fill="#000" stroke="#000" stroke-width="0.25">B</text>
<text transform="translate(124.5,390) scale(0.76,1)" font-size="12.4" text-anchor="middle" fill="#000" stroke="#000" stroke-width="0.25">A</text>
<text transform="translate(124.5,405) scale(0.76,1)" font-size="12.4" text-anchor="middle" fill="#000" stroke="#000" stroke-width="0.25">N</text>
<text transform="translate(124.5,419.8) scale(0.76,1)" font-size="12.4" text-anchor="middle" fill="#000" stroke="#000" stroke-width="0.25">K</text>
<clipPath id="cl2"><rect x="117" y="420" width="14" height="13.6"/></clipPath>
<g clip-path="url(#cl2)">
<text transform="translate(124.5,435) scale(0.76,1)" font-size="13" text-anchor="middle" fill="#000" stroke="#000" stroke-width="0.25">2</text>
</g>
<rect x="135" y="362.6" width="14.3" height="71" fill="#fff" />
<text transform="translate(142.7,374.5) scale(0.76,1)" font-size="12.4" text-anchor="middle" fill="#000" stroke="#000" stroke-width="0.25">B</text>
<text transform="translate(142.7,390) scale(0.76,1)" font-size="12.4" text-anchor="middle" fill="#000" stroke="#000" stroke-width="0.25">A</text>
<text transform="translate(142.7,405) scale(0.76,1)" font-size="12.4" text-anchor="middle" fill="#000" stroke="#000" stroke-width="0.25">N</text>
<text transform="translate(142.7,419.8) scale(0.76,1)" font-size="12.4" text-anchor="middle" fill="#000" stroke="#000" stroke-width="0.25">K</text>
<clipPath id="cl1"><rect x="135" y="420" width="14.300000000000011" height="13.6"/></clipPath>
<g clip-path="url(#cl1)">
<path d="M143.6,435 V425.705 M143.7,425.905 L141.1,428.405" fill="none" stroke="#000" stroke-width="1.05" stroke-linecap="butt" shape-rendering="auto"/>
</g>
<rect x="153" y="362.6" width="15" height="71" fill="#fff" />
<text transform="translate(160.5,374.5) scale(0.76,1)" font-size="12.4" text-anchor="middle" fill="#000" stroke="#000" stroke-width="0.25">B</text>
<text transform="translate(160.5,390) scale(0.76,1)" font-size="12.4" text-anchor="middle" fill="#000" stroke="#000" stroke-width="0.25">A</text>
<text transform="translate(160.5,405) scale(0.76,1)" font-size="12.4" text-anchor="middle" fill="#000" stroke="#000" stroke-width="0.25">N</text>
<text transform="translate(160.5,419.8) scale(0.76,1)" font-size="12.4" text-anchor="middle" fill="#000" stroke="#000" stroke-width="0.25">K</text>
<clipPath id="cl0"><rect x="153" y="420" width="15" height="13.6"/></clipPath>
<g clip-path="url(#cl0)">
<text transform="translate(160.5,435) scale(0.76,1)" font-size="13" text-anchor="middle" fill="#000" stroke="#000" stroke-width="0.25">0</text>
</g>
<rect x="111.2" y="246.8" width="42.3" height="18.8" rx="3.5" ry="3.5" fill="#000" shape-rendering="auto"/>
<rect x="113.2" y="248.8" width="38" height="14.5" rx="2.5" ry="2.5" fill="#fff" shape-rendering="auto"/>
<text transform="translate(116.2,260.9) scale(0.76,1)" font-size="13" text-anchor="middle" fill="#000" stroke="#000" stroke-width="0.25">C</text>
<text transform="translate(128.2,260.9) scale(0.76,1)" font-size="13" text-anchor="middle" fill="#000" stroke="#000" stroke-width="0.25">N</text>
<path d="M138.7,260.9 V251.605 M138.8,251.805 L136.2,254.305" fill="none" stroke="#000" stroke-width="1.05" stroke-linecap="butt" shape-rendering="auto"/>
<text transform="translate(145.7,260.9) scale(0.76,1)" font-size="13" text-anchor="middle" fill="#000" stroke="#000" stroke-width="0.25">3</text>
<rect x="111" y="254.4" width="3.2" height="4" fill="#fff" />
<circle cx="79" cy="439.7" r="23" fill="#fff" stroke="#000" stroke-width="1.1" shape-rendering="auto"/>
<rect x="71" y="401.5" width="16" height="16" fill="#000" />
<path d="M76.5,401.5 L76.5,451.5 Q76.5,454.3 79,454.3 Q81.5,454.3 81.5,451.5 L81.5,401.5 Z" fill="#fff" stroke="#000" stroke-width="1" shape-rendering="auto"/>
<rect x="77" y="444" width="4" height="1" fill="#000" />
<rect x="66" y="489" width="7" height="19" fill="#000" />
<rect x="68" y="491" width="3" height="3" fill="#fff" />
<rect x="67" y="495.2" width="5" height="0.8" fill="#fff" />
<rect x="67" y="500.3" width="5" height="1" fill="#fff" />
<rect x="71.3" y="500.3" width="0.7" height="6.4" fill="#fff" />
<rect x="67" y="506" width="5" height="0.8" fill="#fff" />
<polygon points="49,492.3 52.51,493.58 56.5,494.6 66.1,494.6 66.1,498 56.5,498 52.51,499.02 49,500.3" fill="#000" shape-rendering="auto"/>
<polygon points="46.9,494.3 50.55,494.62 53.35,495.8 57.5,495.8 57.5,496.8 53.35,496.8 50.55,497.98 46.9,498.3" fill="#fff" shape-rendering="auto"/>
<rect x="4.2" y="487.2" width="45.7" height="18.3" rx="3.5" ry="3.5" fill="#000" shape-rendering="auto"/>
<rect x="6.2" y="489.2" width="41.4" height="14" rx="2.5" ry="2.5" fill="#fff" shape-rendering="auto"/>
<text transform="translate(10.8,499.9) scale(0.76,1)" font-size="13" text-anchor="middle" fill="#000" stroke="#000" stroke-width="0.25">J</text>
<text transform="translate(20.3,499.9) scale(0.76,1)" font-size="13" text-anchor="middle" fill="#000" stroke="#000" stroke-width="0.25">P</text>
<path d="M32,499.9 V490.605 M32.1,490.805 L29.5,493.305" fill="none" stroke="#000" stroke-width="1.05" stroke-linecap="butt" shape-rendering="auto"/>
<text transform="translate(38.4,499.9) scale(0.76,1)" font-size="13" text-anchor="middle" fill="#000" stroke="#000" stroke-width="0.25">4</text>
<rect x="46.9" y="494.3" width="3.2" height="4" fill="#fff" />
<rect x="184" y="550" width="19" height="8" fill="#000" />
<rect x="185.2" y="551" width="0.8" height="6" fill="#fff" />
<rect x="185.2" y="556" width="16.8" height="1" fill="#fff" />
<rect x="189.4" y="551.5" width="0.7" height="4.5" fill="#fff" />
<rect x="191.4" y="551.5" width="0.7" height="4.5" fill="#fff" />
<rect x="195.6" y="551.5" width="0.7" height="4.5" fill="#fff" />
<rect x="197.2" y="551" width="0.7" height="5" fill="#fff" />
<rect x="197.2" y="551" width="4.8" height="0.8" fill="#fff" />
<polygon points="188.5,532.6 189.78,536.11 190.8,540.1 190.8,550.1 194.2,550.1 194.2,540.1 195.22,536.11 196.5,532.6" fill="#000" shape-rendering="auto"/>
<polygon points="190.5,530.5 190.82,534.15 192,536.95 192,541.1 193,541.1 193,536.95 194.18,534.15 194.5,530.5" fill="#fff" shape-rendering="auto"/>
<rect x="181.2" y="516.1" width="24.6" height="17.4" rx="3.5" ry="3.5" fill="#000" shape-rendering="auto"/>
<rect x="183.2" y="518.1" width="20.3" height="13.1" rx="2.5" ry="2.5" fill="#fff" shape-rendering="auto"/>
<text transform="translate(187.2,529.2) scale(0.76,1)" font-size="13" text-anchor="middle" fill="#000" stroke="#000" stroke-width="0.25">C</text>
<text transform="translate(197.2,529.2) scale(0.76,1)" font-size="13" text-anchor="middle" fill="#000" stroke="#000" stroke-width="0.25">7</text>
<rect x="190.5" y="530.5" width="4" height="3.2" fill="#fff" />
<text transform="translate(383.5,54) scale(0.88,1)" font-size="11" text-anchor="middle" fill="#000" stroke="#000" stroke-width="0.25">3</text>
<text transform="translate(391.6,54) scale(0.88,1)" font-size="11" text-anchor="middle" fill="#000" stroke="#000" stroke-width="0.25">5</text>
<text transform="translate(399.1,54) scale(0.88,1)" font-size="11" text-anchor="middle" fill="#000" stroke="#000" stroke-width="0.25">9</text>
<text transform="translate(407.7,54) scale(0.88,1)" font-size="11" text-anchor="middle" fill="#000" stroke="#000" stroke-width="0.25">7</text>
<path d="M415.7,54 V46.135 M415.8,46.335 L413.2,48.835" fill="none" stroke="#000" stroke-width="1.05" stroke-linecap="butt" shape-rendering="auto"/>
<rect x="506" y="15" width="26" height="6" fill="#000" />
<rect x="506.9" y="16" width="1.4" height="4" fill="#fff" />
<rect x="512.8" y="16" width="1.1" height="4" fill="#fff" />
<rect x="518.9" y="16" width="1.2" height="4" fill="#fff" />
<rect x="524.5" y="16" width="1.6" height="4" fill="#fff" />
<rect x="530" y="16" width="1" height="4" fill="#fff" />
<rect x="527" y="16.6" width="2.2" height="2.8" fill="#fff" />
<polygon points="547.3,14.2 543.79,15.48 539.8,16.5 532,16.5 532,19.9 539.8,19.9 543.79,20.92 547.3,22.2" fill="#000" shape-rendering="auto"/>
<polygon points="549.4,16.2 545.75,16.52 542.95,17.7 538.8,17.7 538.8,18.7 542.95,18.7 545.75,19.88 549.4,20.2" fill="#fff" shape-rendering="auto"/>
<rect x="546.4" y="8.9" width="35.8" height="19.1" rx="3.5" ry="3.5" fill="#000" shape-rendering="auto"/>
<rect x="549" y="11.5" width="30.9" height="14.2" rx="2.5" ry="2.5" fill="#fff" shape-rendering="auto"/>
<text transform="translate(554.9,22.8) scale(0.76,1)" font-size="13" text-anchor="middle" fill="#000" stroke="#000" stroke-width="0.25">C</text>
<text transform="translate(566.2,22.8) scale(0.76,1)" font-size="13" text-anchor="middle" fill="#000" stroke="#000" stroke-width="0.25">N</text>
<text transform="translate(573.7,22.8) scale(0.76,1)" font-size="13" text-anchor="middle" fill="#000" stroke="#000" stroke-width="0.25">3</text>
<rect x="546.2" y="16.2" width="3.2" height="4" fill="#fff" />
<rect x="492" y="85" width="44" height="15.8" fill="#000" />
<rect x="495" y="88" width="37.6" height="10" fill="#fff" />
<rect x="494" y="99" width="40" height="0.8" fill="#fff" />
<rect x="533.2" y="87.6" width="0.8" height="12.2" fill="#fff" />
<rect x="497" y="90" width="6" height="6.6" fill="#000" />
<rect x="506" y="90" width="6" height="6.6" fill="#000" />
<rect x="515.2" y="90" width="6" height="6.6" fill="#000" />
<rect x="524" y="90" width="7.2" height="6" fill="#000" />
<rect x="525" y="91" width="5.2" height="4" fill="#fff" />
<polygon points="550.9,88.9 547.39,90.18 543.4,91.2 535.4,91.2 535.4,94.6 543.4,94.6 547.39,95.62 550.9,96.9" fill="#000" shape-rendering="auto"/>
<polygon points="553,90.9 549.35,91.22 546.55,92.4 542.4,92.4 542.4,93.4 546.55,93.4 549.35,94.58 553,94.9" fill="#fff" shape-rendering="auto"/>
<rect x="550" y="84" width="36.1" height="18.6" rx="3.5" ry="3.5" fill="#000" shape-rendering="auto"/>
<rect x="552" y="86" width="31.8" height="14.3" rx="2.5" ry="2.5" fill="#fff" shape-rendering="auto"/>
<text transform="translate(557,96.9) scale(0.76,1)" font-size="13" text-anchor="middle" fill="#000" stroke="#000" stroke-width="0.25">C</text>
<text transform="translate(569.2,96.9) scale(0.76,1)" font-size="13" text-anchor="middle" fill="#000" stroke="#000" stroke-width="0.25">D</text>
<path d="M579.8,96.9 V87.605 M579.9,87.805 L577.3,90.305" fill="none" stroke="#000" stroke-width="1.05" stroke-linecap="butt" shape-rendering="auto"/>
<rect x="549.8" y="90.9" width="3.2" height="4" fill="#fff" />
<rect x="449" y="135" width="19" height="6.6" fill="#000" />
<rect x="450.6" y="136" width="2.6" height="4.6" fill="#fff" />
<rect x="456" y="136" width="2.6" height="4.6" fill="#fff" />
<rect x="461" y="136" width="6" height="4.6" fill="#fff" />
<rect x="463" y="137.2" width="2.4" height="2.2" fill="#000" />
<polygon points="434.5,134.2 438.01,135.48 442,136.5 449.5,136.5 449.5,139.9 442,139.9 438.01,140.92 434.5,142.2" fill="#000" shape-rendering="auto"/>
<polygon points="432.4,136.2 436.05,136.52 438.85,137.7 443,137.7 443,138.7 438.85,138.7 436.05,139.88 432.4,140.2" fill="#fff" shape-rendering="auto"/>
<rect x="399.3" y="129" width="36" height="18.6" rx="3.5" ry="3.5" fill="#000" shape-rendering="auto"/>
<rect x="401.3" y="131" width="31.7" height="14.3" rx="2.5" ry="2.5" fill="#fff" shape-rendering="auto"/>
<text transform="translate(405.6,142.75) scale(0.76,1)" font-size="13" text-anchor="middle" fill="#000" stroke="#000" stroke-width="0.25">J</text>
<text transform="translate(414.9,142.75) scale(0.76,1)" font-size="13" text-anchor="middle" fill="#000" stroke="#000" stroke-width="0.25">S</text>
<path d="M426.9,142.75 V133.455 M427,133.655 L424.4,136.155" fill="none" stroke="#000" stroke-width="1.05" stroke-linecap="butt" shape-rendering="auto"/>
<rect x="432" y="136.2" width="3.5" height="4" fill="#fff" />
<rect x="475" y="291" width="7.2" height="35.8" fill="#000" />
<rect x="476" y="292" width="5" height="1" fill="#fff" />
<rect x="480" y="292" width="1" height="33.5" fill="#fff" />
<rect x="476" y="297.4" width="5" height="1" fill="#fff" />
<rect x="476" y="303.2" width="5" height="1" fill="#fff" />
<rect x="476" y="309" width="5" height="1" fill="#fff" />
<rect x="476" y="314.8" width="5" height="1" fill="#fff" />
<rect x="476" y="320.5" width="5" height="1" fill="#fff" />
<rect x="476.6" y="293.7" width="2.8" height="2.8" fill="#fff" />
<rect x="477.5" y="294.6" width="1" height="1" fill="#000" />
<polygon points="473.4,273.4 474.68,276.91 475.7,280.9 475.7,291.1 479.1,291.1 479.1,280.9 480.12,276.91 481.4,273.4" fill="#000" shape-rendering="auto"/>
<polygon points="475.4,271.3 475.72,274.95 476.9,277.75 476.9,281.9 477.9,281.9 477.9,277.75 479.08,274.95 479.4,271.3" fill="#fff" shape-rendering="auto"/>
<rect x="461.3" y="256.9" width="33.3" height="17.4" rx="3.5" ry="3.5" fill="#000" shape-rendering="auto"/>
<rect x="463.3" y="258.9" width="29" height="13.1" rx="2.5" ry="2.5" fill="#fff" shape-rendering="auto"/>
<text transform="translate(467.9,269.7) scale(0.76,1)" font-size="13" text-anchor="middle" fill="#000" stroke="#000" stroke-width="0.25">I</text>
<text transform="translate(475,269.7) scale(0.76,1)" font-size="13" text-anchor="middle" fill="#000" stroke="#000" stroke-width="0.25">R</text>
<path d="M486.1,269.7 V260.405 M486.2,260.605 L483.6,263.105" fill="none" stroke="#000" stroke-width="1.05" stroke-linecap="butt" shape-rendering="auto"/>
<rect x="475.4" y="271.3" width="4" height="3.2" fill="#fff" />
<rect x="401" y="320" width="25" height="101.5" fill="#000" />
<rect x="402" y="321" width="23" height="99.5" fill="#fff" />
<rect x="405" y="326.4" width="7" height="6.8" fill="#000" />
<rect x="406" y="327.4" width="5" height="4.8" fill="#fff" />
<rect x="414.4" y="326.4" width="7.6" height="6.8" fill="#000" />
<rect x="415.4" y="327.4" width="5.6" height="4.8" fill="#fff" />
<rect x="405" y="335.71" width="7" height="6.8" fill="#000" />
<rect x="406" y="336.71" width="5" height="4.8" fill="#fff" />
<rect x="414.4" y="335.71" width="7.6" height="6.8" fill="#000" />
<rect x="415.4" y="336.71" width="5.6" height="4.8" fill="#fff" />
<rect x="405" y="345.02" width="7" height="6.8" fill="#000" />
<rect x="406" y="346.02" width="5" height="4.8" fill="#fff" />
<rect x="414.4" y="345.02" width="7.6" height="6.8" fill="#000" />
<rect x="415.4" y="346.02" width="5.6" height="4.8" fill="#fff" />
<rect x="405" y="354.33" width="7" height="6.8" fill="#000" />
<rect x="406" y="355.33" width="5" height="4.8" fill="#fff" />
<rect x="414.4" y="354.33" width="7.6" height="6.8" fill="#000" />
<rect x="415.4" y="355.33" width="5.6" height="4.8" fill="#fff" />
<rect x="405" y="363.64" width="7" height="6.8" fill="#000" />
<rect x="406" y="364.64" width="5" height="4.8" fill="#fff" />
<rect x="414.4" y="363.64" width="7.6" height="6.8" fill="#000" />
<rect x="415.4" y="364.64" width="5.6" height="4.8" fill="#fff" />
<rect x="405" y="372.95" width="7" height="6.8" fill="#000" />
<rect x="406" y="373.95" width="5" height="4.8" fill="#fff" />
<rect x="414.4" y="372.95" width="7.6" height="6.8" fill="#000" />
<rect x="415.4" y="373.95" width="5.6" height="4.8" fill="#fff" />
<rect x="405" y="382.26" width="7" height="6.8" fill="#000" />
<rect x="406" y="383.26" width="5" height="4.8" fill="#fff" />
<rect x="414.4" y="382.26" width="7.6" height="6.8" fill="#000" />
<rect x="415.4" y="383.26" width="5.6" height="4.8" fill="#fff" />
<rect x="405" y="391.57" width="7" height="6.8" fill="#000" />
<rect x="406" y="392.57" width="5" height="4.8" fill="#fff" />
<rect x="414.4" y="391.57" width="7.6" height="6.8" fill="#000" />
<rect x="415.4" y="392.57" width="5.6" height="4.8" fill="#fff" />
<rect x="405" y="400.88" width="7" height="6.8" fill="#000" />
<rect x="406" y="401.88" width="5" height="4.8" fill="#fff" />
<rect x="414.4" y="400.88" width="7.6" height="6.8" fill="#000" />
<rect x="415.4" y="401.88" width="5.6" height="4.8" fill="#fff" />
<rect x="405" y="410.19" width="7" height="6.8" fill="#000" />
<rect x="406" y="411.19" width="5" height="4.8" fill="#fff" />
<rect x="414.4" y="410.19" width="7.6" height="6.8" fill="#000" />
<rect x="415.4" y="411.19" width="5.6" height="4.8" fill="#fff" />
<polygon points="385.5,360.9 389.01,362.18 393,363.2 401.2,363.2 401.2,366.6 393,366.6 389.01,367.62 385.5,368.9" fill="#000" shape-rendering="auto"/>
<polygon points="383.4,362.9 387.05,363.22 389.85,364.4 394,364.4 394,365.4 389.85,365.4 387.05,366.58 383.4,366.9" fill="#fff" shape-rendering="auto"/>
<rect x="351.7" y="356.4" width="34.6" height="17.1" rx="3.5" ry="3.5" fill="#000" shape-rendering="auto"/>
<rect x="353.7" y="358.4" width="30.3" height="12.8" rx="2.5" ry="2.5" fill="#fff" shape-rendering="auto"/>
<text transform="translate(356.8,371.2) scale(0.76,1)" font-size="13" text-anchor="middle" fill="#000" stroke="#000" stroke-width="0.25">A</text>
<text transform="translate(367.8,371.2) scale(0.76,1)" font-size="13" text-anchor="middle" fill="#000" stroke="#000" stroke-width="0.25">T</text>
<text transform="translate(376.5,371.2) scale(0.76,1)" font-size="13" text-anchor="middle" fill="#000" stroke="#000" stroke-width="0.25">X</text>
<rect x="383.4" y="362.9" width="3.1" height="4" fill="#fff" />
<rect x="434" y="320" width="13.2" height="101" fill="#000" />
<rect x="435" y="321" width="1" height="99" fill="#fff" />
<rect x="440" y="321" width="1" height="99" fill="#fff" />
<rect x="435" y="325.7" width="11.2" height="1" fill="#fff" />
<rect x="435" y="331.5" width="11.2" height="1" fill="#fff" />
<rect x="435" y="337.3" width="11.2" height="1" fill="#fff" />
<rect x="435" y="343.1" width="11.2" height="1" fill="#fff" />
<rect x="435" y="348.9" width="11.2" height="1" fill="#fff" />
<rect x="435" y="354.7" width="11.2" height="1" fill="#fff" />
<rect x="435" y="360.5" width="11.2" height="1" fill="#fff" />
<rect x="435" y="366.3" width="11.2" height="1" fill="#fff" />
<rect x="435" y="372.1" width="11.2" height="1" fill="#fff" />
<rect x="435" y="377.9" width="11.2" height="1" fill="#fff" />
<rect x="435" y="383.7" width="11.2" height="1" fill="#fff" />
<rect x="435" y="389.5" width="11.2" height="1" fill="#fff" />
<rect x="435" y="395.3" width="11.2" height="1" fill="#fff" />
<rect x="435" y="401.1" width="11.2" height="1" fill="#fff" />
<rect x="435" y="406.9" width="11.2" height="1" fill="#fff" />
<rect x="435" y="412.7" width="11.2" height="1" fill="#fff" />
<rect x="435" y="418.5" width="11.2" height="1" fill="#fff" />
<rect x="436.8" y="322" width="2.4" height="3.2" fill="#fff" />
<polygon points="436.5,438.8 437.78,435.29 438.8,431.3 438.8,420.8 442.2,420.8 442.2,431.3 443.22,435.29 444.5,438.8" fill="#000" shape-rendering="auto"/>
<polygon points="438.5,440.9 438.82,437.25 440,434.45 440,430.3 441,430.3 441,434.45 442.18,437.25 442.5,440.9" fill="#fff" shape-rendering="auto"/>
<rect x="419.3" y="437.7" width="42.7" height="19.2" rx="3.5" ry="3.5" fill="#000" shape-rendering="auto"/>
<rect x="421.3" y="439.7" width="38.4" height="14.9" rx="2.5" ry="2.5" fill="#fff" shape-rendering="auto"/>
<text transform="translate(424.4,452) scale(0.76,1)" font-size="13" text-anchor="middle" fill="#000" stroke="#000" stroke-width="0.25">C</text>
<text transform="translate(436.2,452) scale(0.76,1)" font-size="13" text-anchor="middle" fill="#000" stroke="#000" stroke-width="0.25">N</text>
<path d="M446.9,452 V442.705 M447,442.905 L444.4,445.405" fill="none" stroke="#000" stroke-width="1.05" stroke-linecap="butt" shape-rendering="auto"/>
<text transform="translate(454.9,452) scale(0.76,1)" font-size="13" text-anchor="middle" fill="#000" stroke="#000" stroke-width="0.25">2</text>
<rect x="438.5" y="437.5" width="4" height="3.2" fill="#fff" />
<rect x="496" y="229" width="28" height="79.75" fill="#000" />
<rect x="504" y="222.75" width="35.5" height="6.75" fill="#000" />
<rect x="505" y="226" width="11" height="2.6" fill="#fff" />
<rect x="516" y="221" width="5" height="6" fill="#000" />
<rect x="517" y="222" width="3" height="4" fill="#fff" />
<rect x="520.25" y="219" width="6.25" height="97" fill="#000" />
<rect x="524" y="220" width="1.4" height="95" fill="#fff" />
<rect x="526" y="221" width="8" height="6" fill="#000" />
<rect x="527" y="222" width="6" height="4" fill="#fff" />
<rect x="505.25" y="312.5" width="34.25" height="6" fill="#000" />
<rect x="505.25" y="308.75" width="34.25" height="4.25" fill="#000" />
<rect x="506.25" y="309.5" width="8.25" height="5" fill="#fff" />
<rect x="516.5" y="311" width="3.5" height="4.5" fill="#fff" />
<rect x="526.5" y="311" width="6" height="4.5" fill="#fff" />
<rect x="526.5" y="308.75" width="10" height="1.25" fill="#fff" />
<rect x="526.5" y="229.6" width="12.5" height="79" fill="#fff" />
<rect x="524" y="219" width="2.5" height="97" fill="#000" />
<rect x="524" y="220" width="1.4" height="95.6" fill="#fff" />
<rect x="501.4" y="259.4" width="32.4" height="17.8" rx="3.5" ry="3.5" fill="#000" shape-rendering="auto"/>
<rect x="503.4" y="261.4" width="28.1" height="13.5" rx="2.5" ry="2.5" fill="#fff" shape-rendering="auto"/>
<text transform="translate(509,272.9) scale(0.76,1)" font-size="13" text-anchor="middle" fill="#000" stroke="#000" stroke-width="0.25">C</text>
<text transform="translate(519.6,272.9) scale(0.76,1)" font-size="13" text-anchor="middle" fill="#000" stroke="#000" stroke-width="0.25">N</text>
<path d="M528.9,272.9 V263.605 M529,263.805 L526.4,266.305" fill="none" stroke="#000" stroke-width="1.05" stroke-linecap="butt" shape-rendering="auto"/>
<rect x="540.5" y="227.25" width="13.5" height="11.25" fill="#000" />
<rect x="541.5" y="228.25" width="11.5" height="9.25" fill="#fff" />
<rect x="540.5" y="264.4" width="14.75" height="10.1" fill="#000" />
<rect x="541.5" y="265.4" width="12.75" height="8.1" fill="#fff" />
<rect x="540.5" y="301.5" width="14.75" height="11.25" fill="#000" />
<rect x="541.5" y="302.5" width="12.75" height="9.25" fill="#fff" />
<polygon points="571.3,229.7 567.79,230.98 563.8,232 554.5,232 554.5,235.4 563.8,235.4 567.79,236.42 571.3,237.7" fill="#000" shape-rendering="auto"/>
<polygon points="573.4,231.7 569.75,232.02 566.95,233.2 562.8,233.2 562.8,234.2 566.95,234.2 569.75,235.38 573.4,235.7" fill="#fff" shape-rendering="auto"/>
<rect x="570.4" y="224.3" width="35.1" height="18.3" rx="3.5" ry="3.5" fill="#000" shape-rendering="auto"/>
<rect x="572.4" y="226.3" width="30.8" height="14" rx="2.5" ry="2.5" fill="#fff" shape-rendering="auto"/>
<text transform="translate(578.3,238.6) scale(0.76,1)" font-size="13" text-anchor="middle" fill="#000" stroke="#000" stroke-width="0.25">C</text>
<text transform="translate(588.3,238.6) scale(0.76,1)" font-size="13" text-anchor="middle" fill="#000" stroke="#000" stroke-width="0.25">N</text>
<text transform="translate(595.9,238.6) scale(0.76,1)" font-size="13" text-anchor="middle" fill="#000" stroke="#000" stroke-width="0.25">2</text>
<rect x="570.2" y="231.7" width="3.2" height="4" fill="#fff" />
<polygon points="571.3,266.2 567.79,267.48 563.8,268.5 555.5,268.5 555.5,271.9 563.8,271.9 567.79,272.92 571.3,274.2" fill="#000" shape-rendering="auto"/>
<polygon points="573.4,268.2 569.75,268.52 566.95,269.7 562.8,269.7 562.8,270.7 566.95,270.7 569.75,271.88 573.4,272.2" fill="#fff" shape-rendering="auto"/>
<rect x="570.4" y="261.3" width="35.1" height="18" rx="3.5" ry="3.5" fill="#000" shape-rendering="auto"/>
<rect x="572.4" y="263.3" width="30.8" height="13.7" rx="2.5" ry="2.5" fill="#fff" shape-rendering="auto"/>
<text transform="translate(579,275.2) scale(0.76,1)" font-size="13" text-anchor="middle" fill="#000" stroke="#000" stroke-width="0.25">C</text>
<text transform="translate(588.9,275.2) scale(0.76,1)" font-size="13" text-anchor="middle" fill="#000" stroke="#000" stroke-width="0.25">N</text>
<text transform="translate(596.6,275.2) scale(0.76,1)" font-size="13" text-anchor="middle" fill="#000" stroke="#000" stroke-width="0.25">4</text>
<rect x="570.2" y="268.2" width="3.2" height="4" fill="#fff" />
<polygon points="571.3,304.2 567.79,305.48 563.8,306.5 555.5,306.5 555.5,309.9 563.8,309.9 567.79,310.92 571.3,312.2" fill="#000" shape-rendering="auto"/>
<polygon points="573.4,306.2 569.75,306.52 566.95,307.7 562.8,307.7 562.8,308.7 566.95,308.7 569.75,309.88 573.4,310.2" fill="#fff" shape-rendering="auto"/>
<rect x="570.4" y="299.4" width="35.1" height="17.9" rx="3.5" ry="3.5" fill="#000" shape-rendering="auto"/>
<rect x="572.4" y="301.4" width="30.8" height="13.6" rx="2.5" ry="2.5" fill="#fff" shape-rendering="auto"/>
<text transform="translate(579,313.5) scale(0.76,1)" font-size="13" text-anchor="middle" fill="#000" stroke="#000" stroke-width="0.25">C</text>
<text transform="translate(588.9,313.5) scale(0.76,1)" font-size="13" text-anchor="middle" fill="#000" stroke="#000" stroke-width="0.25">N</text>
<text transform="translate(596.6,313.5) scale(0.76,1)" font-size="13" text-anchor="middle" fill="#000" stroke="#000" stroke-width="0.25">5</text>
<rect x="570.2" y="306.2" width="3.2" height="4" fill="#fff" />
<rect x="495.25" y="348" width="27.75" height="91" fill="#000" />
<rect x="504.25" y="341" width="18.75" height="8" fill="#000" />
<rect x="515.25" y="339" width="11.75" height="10" fill="#000" />
<rect x="519.6" y="337" width="6.4" height="112" fill="#000" />
<rect x="515.5" y="339" width="5" height="6" fill="#000" />
<rect x="516.5" y="340" width="3" height="4" fill="#fff" />
<rect x="532" y="331" width="7.5" height="18" fill="#000" />
<rect x="526" y="344.3" width="13.5" height="4.7" fill="#000" />
<rect x="525.5" y="339" width="8.5" height="6" fill="#000" />
<rect x="526.5" y="340" width="6.5" height="4" fill="#fff" />
<rect x="530" y="334" width="3" height="6" fill="#000" />
<rect x="531" y="335" width="1" height="4" fill="#fff" />
<rect x="540" y="334" width="9.5" height="6" fill="#000" />
<rect x="541" y="335" width="7.5" height="4" fill="#fff" />
<rect x="526" y="349" width="12" height="89" fill="#fff" />
<rect x="538" y="349" width="1" height="90" fill="#000" />
<rect x="523.2" y="338" width="1.8" height="110" fill="#fff" />
<rect x="525" y="337" width="1" height="112" fill="#000" />
<rect x="538" y="339.7" width="3" height="2.8" fill="#000" />
<rect x="539" y="342.5" width="2" height="41.5" fill="#fff" />
<path d="M539,342.5 H552 Q554.5,342.5 554.5,345 V382 Q554.5,384.5 552,384.5 H539" fill="#fff" stroke="#000" stroke-width="1" shape-rendering="auto"/>
<rect x="538" y="384.5" width="3" height="12" fill="#000" />
<rect x="540" y="388" width="9" height="6" fill="#000" />
<rect x="541" y="389" width="7" height="4" fill="#fff" />
<rect x="540" y="396.8" width="1" height="41.2" fill="#fff" />
<path d="M540,396.5 H553 Q555.5,396.5 555.5,399 V436 Q555.5,438.5 553,438.5 H540" fill="#fff" stroke="#000" stroke-width="1" shape-rendering="auto"/>
<rect x="515.25" y="441.5" width="33.75" height="6.5" fill="#000" />
<rect x="516.25" y="442.5" width="31.75" height="4.5" fill="#fff" />
<rect x="533.4" y="438" width="6.1" height="14.2" fill="#000" />
<rect x="539.5" y="441.5" width="2" height="6.5" fill="#000" />
<rect x="520.25" y="438" width="5.75" height="11" fill="#000" />
<rect x="523.2" y="438" width="1.8" height="10" fill="#fff" />
<rect x="526" y="438" width="13.5" height="1" fill="#000" />
<rect x="501.2" y="384.1" width="32.6" height="17.6" rx="3.5" ry="3.5" fill="#000" shape-rendering="auto"/>
<rect x="503.2" y="386.1" width="28.3" height="13.3" rx="2.5" ry="2.5" fill="#fff" shape-rendering="auto"/>
<text transform="translate(509.1,398) scale(0.76,1)" font-size="13" text-anchor="middle" fill="#000" stroke="#000" stroke-width="0.25">C</text>
<text transform="translate(519,398) scale(0.76,1)" font-size="13" text-anchor="middle" fill="#000" stroke="#000" stroke-width="0.25">N</text>
<text transform="translate(527.5,398) scale(0.76,1)" font-size="13" text-anchor="middle" fill="#000" stroke="#000" stroke-width="0.25">7</text>
<polygon points="571.1,360.7 567.59,361.98 563.6,363 555.3,363 555.3,366.4 563.6,366.4 567.59,367.42 571.1,368.7" fill="#000" shape-rendering="auto"/>
<polygon points="573.2,362.7 569.55,363.02 566.75,364.2 562.6,364.2 562.6,365.2 566.75,365.2 569.55,366.38 573.2,366.7" fill="#fff" shape-rendering="auto"/>
<rect x="570.2" y="356" width="35.3" height="18.3" rx="3.5" ry="3.5" fill="#000" shape-rendering="auto"/>
<rect x="572.2" y="358" width="31" height="14" rx="2.5" ry="2.5" fill="#fff" shape-rendering="auto"/>
<text transform="translate(578.1,369.1) scale(0.76,1)" font-size="13" text-anchor="middle" fill="#000" stroke="#000" stroke-width="0.25">C</text>
<text transform="translate(589.5,369.1) scale(0.76,1)" font-size="13" text-anchor="middle" fill="#000" stroke="#000" stroke-width="0.25">N</text>
<text transform="translate(596.9,369.1) scale(0.76,1)" font-size="13" text-anchor="middle" fill="#000" stroke="#000" stroke-width="0.25">6</text>
<rect x="570" y="362.7" width="3.2" height="4" fill="#fff" />
<polygon points="571.1,413.5 567.59,414.78 563.6,415.8 556.2,415.8 556.2,419.2 563.6,419.2 567.59,420.22 571.1,421.5" fill="#000" shape-rendering="auto"/>
<polygon points="573.2,415.5 569.55,415.82 566.75,417 562.6,417 562.6,418 566.75,418 569.55,419.18 573.2,419.5" fill="#fff" shape-rendering="auto"/>
<rect x="570.2" y="409" width="35.3" height="17.7" rx="3.5" ry="3.5" fill="#000" shape-rendering="auto"/>
<rect x="572.2" y="411" width="31" height="13.4" rx="2.5" ry="2.5" fill="#fff" shape-rendering="auto"/>
<text transform="translate(578.1,422.9) scale(0.76,1)" font-size="13" text-anchor="middle" fill="#000" stroke="#000" stroke-width="0.25">C</text>
<text transform="translate(589.5,422.9) scale(0.76,1)" font-size="13" text-anchor="middle" fill="#000" stroke="#000" stroke-width="0.25">N</text>
<text transform="translate(596.9,422.9) scale(0.76,1)" font-size="13" text-anchor="middle" fill="#000" stroke="#000" stroke-width="0.25">8</text>
<rect x="570" y="415.5" width="3.2" height="4" fill="#fff" />
<rect x="491" y="473" width="26.5" height="31" fill="#000" />
<rect x="492" y="474" width="24.5" height="29" fill="#fff" />
<path d="M517,472.5 L519.5,470.5 H539.5 V505.5 H519.5 L517,503.5 Z" fill="#fff" stroke="#000" stroke-width="1" shape-rendering="auto"/>
<rect x="533.5" y="470.5" width="1" height="35" fill="#000" />
<rect x="493.4" y="478.75" width="33.6" height="19.4" rx="4" fill="#000" shape-rendering="auto"/>
<rect x="495.6" y="480.9" width="29.2" height="15" rx="2.5" fill="#fff" shape-rendering="auto"/>
<text transform="translate(500.9,493.1) scale(0.76,1)" font-size="13" text-anchor="middle" fill="#000" stroke="#000" stroke-width="0.25">C</text>
<text transform="translate(510.4,493.1) scale(0.76,1)" font-size="13" text-anchor="middle" fill="#000" stroke="#000" stroke-width="0.25">N</text>
<text transform="translate(518,493.1) scale(0.76,1)" font-size="13" text-anchor="middle" fill="#000" stroke="#000" stroke-width="0.25">9</text>
<polygon points="556.5,483.6 552.99,484.88 549,485.9 541,485.9 541,489.3 549,489.3 552.99,490.32 556.5,491.6" fill="#000" shape-rendering="auto"/>
<polygon points="558.6,485.6 554.95,485.92 552.15,487.1 548,487.1 548,488.1 552.15,488.1 554.95,489.28 558.6,489.6" fill="#fff" shape-rendering="auto"/>
<rect x="555.6" y="478.8" width="40.2" height="18.6" rx="3.5" ry="3.5" fill="#000" shape-rendering="auto"/>
<rect x="557.6" y="480.8" width="35.9" height="14.3" rx="2.5" ry="2.5" fill="#fff" shape-rendering="auto"/>
<text transform="translate(562,493.1) scale(0.76,1)" font-size="13" text-anchor="middle" fill="#000" stroke="#000" stroke-width="0.25">C</text>
<text transform="translate(573.1,493.1) scale(0.76,1)" font-size="13" text-anchor="middle" fill="#000" stroke="#000" stroke-width="0.25">N</text>
<path d="M582.2,493.1 V483.805 M582.3,484.005 L579.7,486.505" fill="none" stroke="#000" stroke-width="1.05" stroke-linecap="butt" shape-rendering="auto"/>
<text transform="translate(588,493.1) scale(0.76,1)" font-size="13" text-anchor="middle" fill="#000" stroke="#000" stroke-width="0.25">0</text>
<rect x="555.4" y="485.6" width="3.2" height="4" fill="#fff" />
<rect x="491" y="523" width="48.5" height="40.3" fill="#000" />
<rect x="492" y="524" width="46.5" height="38.3" fill="#fff" />
<rect x="524.25" y="523" width="15.25" height="40.3" fill="#000" />
<polygon points="533.4,523 533.4,520.5 536,520.5 536,518.4 539.5,518.4 539.5,523" fill="#000" />
<rect x="491" y="532.75" width="48.5" height="18.75" fill="#000" />
<rect x="493" y="535.25" width="38.3" height="13.9" rx="2.5" fill="#fff" shape-rendering="auto"/>
<text transform="translate(497.2,546.9) scale(0.76,1)" font-size="13" text-anchor="middle" fill="#000" stroke="#000" stroke-width="0.25">C</text>
<text transform="translate(509.1,546.9) scale(0.76,1)" font-size="13" text-anchor="middle" fill="#000" stroke="#000" stroke-width="0.25">N</text>
<path d="M519.8,546.9 V537.605 M519.9,537.805 L517.3,540.305" fill="none" stroke="#000" stroke-width="1.05" stroke-linecap="butt" shape-rendering="auto"/>
<path d="M528.7,546.9 V537.605 M528.8,537.805 L526.2,540.305" fill="none" stroke="#000" stroke-width="1.05" stroke-linecap="butt" shape-rendering="auto"/>
<polygon points="533.4,563 533.4,565 536,565 536,566.5 539.5,566.5 539.5,563" fill="#000" />
</svg>
</body></html>
